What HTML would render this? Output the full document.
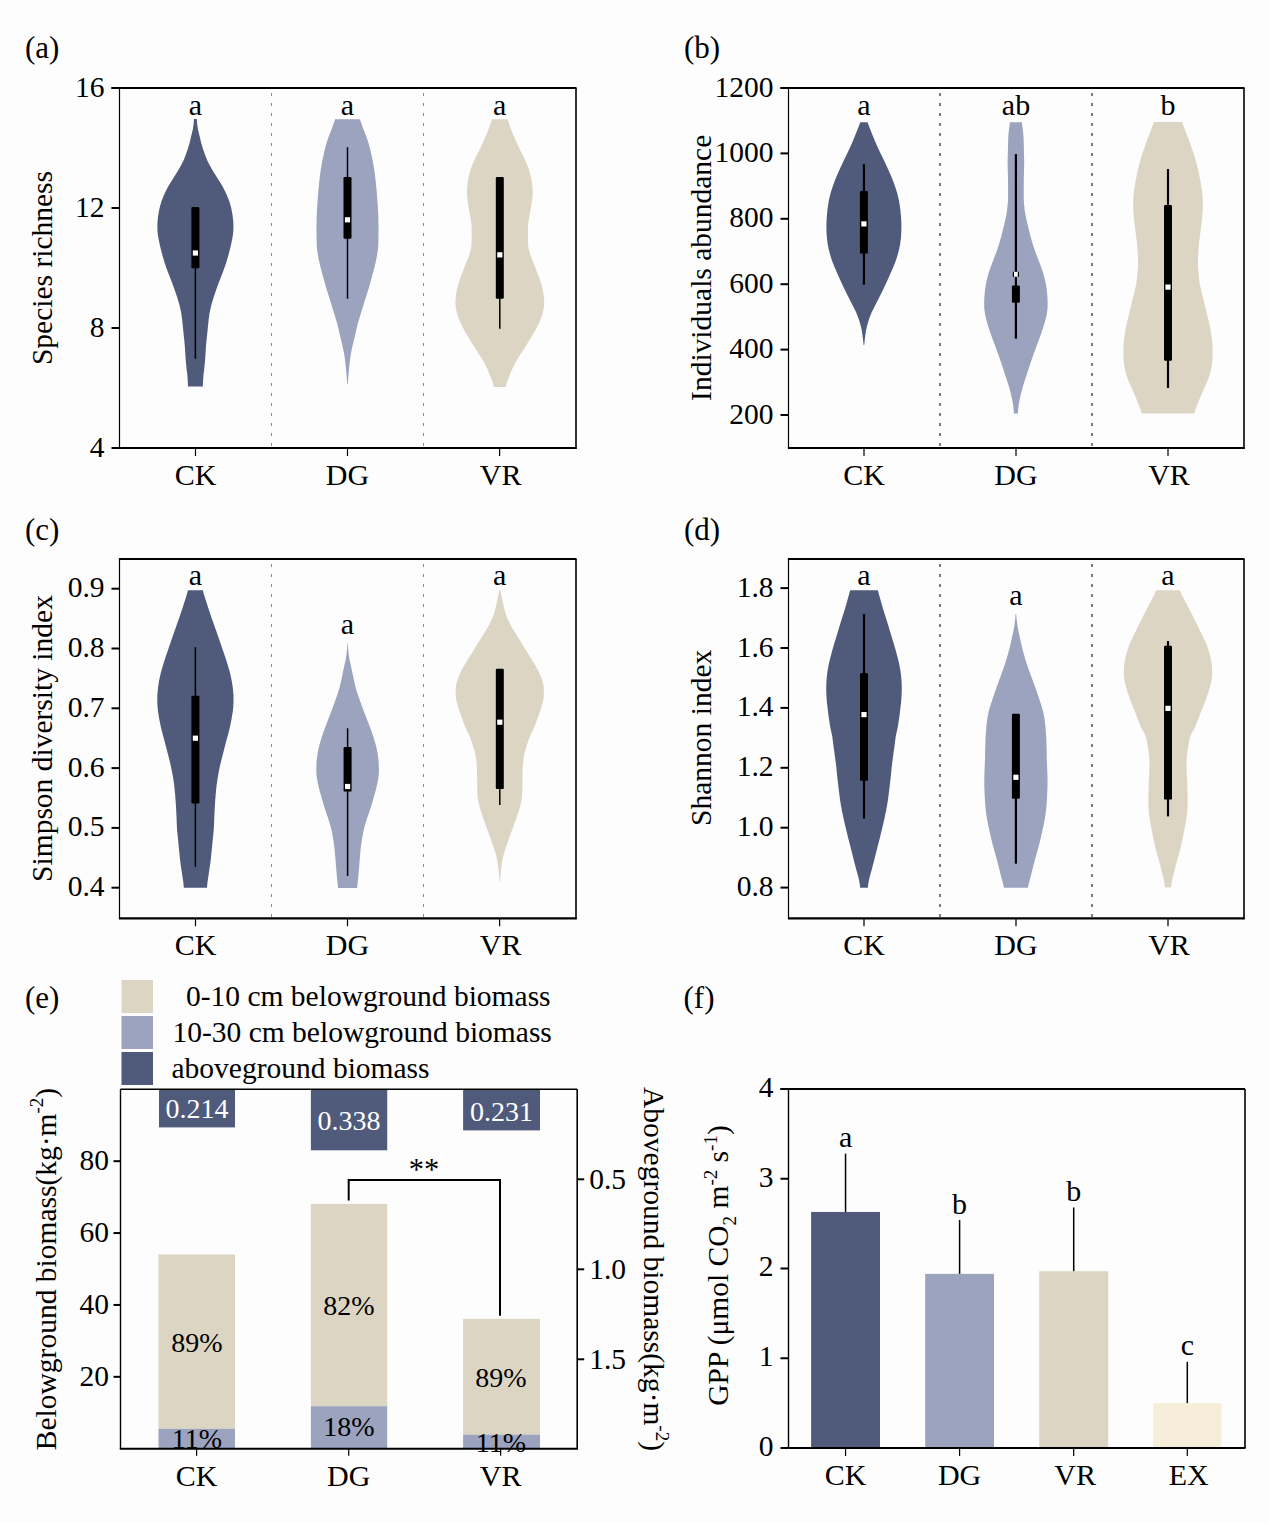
<!DOCTYPE html>
<html><head><meta charset="utf-8"><style>
html,body{margin:0;padding:0;background:#fdfdfd;}
svg{display:block;}
</style></head><body>
<svg width="1269" height="1523" viewBox="0 0 1269 1523" font-family="'Liberation Serif', serif">
<rect x="0" y="0" width="1269" height="1523" fill="#fdfdfd"/>
<path d="M196.9,119.0 L196.9,120.0 L197.0,121.0 L197.0,122.0 L197.1,123.0 L197.2,124.0 L197.3,125.0 L197.5,126.0 L197.6,127.0 L197.8,128.0 L197.9,129.0 L198.1,130.0 L198.4,131.0 L198.6,132.0 L198.8,133.0 L199.1,134.0 L199.3,135.0 L199.6,136.0 L199.8,137.0 L200.0,138.0 L200.3,139.0 L200.5,140.0 L200.7,141.0 L201.0,142.0 L201.2,143.0 L201.5,144.0 L201.8,145.0 L202.1,146.0 L202.4,147.0 L202.7,148.0 L203.0,149.0 L203.4,150.0 L203.7,151.0 L204.1,152.0 L204.4,153.0 L204.8,154.0 L205.1,155.0 L205.5,156.0 L205.9,157.0 L206.3,158.0 L206.7,159.0 L207.1,160.0 L207.5,161.0 L208.0,162.0 L208.5,163.0 L209.0,164.0 L209.6,165.0 L210.1,166.0 L210.7,167.0 L211.3,168.0 L211.8,169.0 L212.4,170.0 L213.0,171.0 L213.6,172.0 L214.2,173.0 L214.9,174.0 L215.5,175.0 L216.1,176.0 L216.7,177.0 L217.3,178.0 L218.0,179.0 L218.6,180.0 L219.2,181.0 L219.9,182.0 L220.5,183.0 L221.1,184.0 L221.7,185.0 L222.3,186.0 L222.9,187.0 L223.4,188.0 L223.9,189.0 L224.4,190.0 L224.9,191.0 L225.4,192.0 L225.9,193.0 L226.3,194.0 L226.8,195.0 L227.2,196.0 L227.6,197.0 L228.0,198.0 L228.4,199.0 L228.8,200.0 L229.2,201.0 L229.5,202.0 L229.8,203.0 L230.1,204.0 L230.4,205.0 L230.7,206.0 L230.9,207.0 L231.2,208.0 L231.4,209.0 L231.6,210.0 L231.8,211.0 L232.0,212.0 L232.2,213.0 L232.3,214.0 L232.5,215.0 L232.7,216.0 L232.8,217.0 L232.9,218.0 L233.0,219.0 L233.1,220.0 L233.2,221.0 L233.3,222.0 L233.3,223.0 L233.4,224.0 L233.4,225.0 L233.4,226.0 L233.4,227.0 L233.4,228.0 L233.4,229.0 L233.4,230.0 L233.3,231.0 L233.2,232.0 L233.1,233.0 L233.0,234.0 L232.9,235.0 L232.7,236.0 L232.5,237.0 L232.4,238.0 L232.2,239.0 L232.0,240.0 L231.8,241.0 L231.6,242.0 L231.4,243.0 L231.2,244.0 L230.9,245.0 L230.7,246.0 L230.5,247.0 L230.2,248.0 L230.0,249.0 L229.7,250.0 L229.5,251.0 L229.2,252.0 L229.0,253.0 L228.7,254.0 L228.4,255.0 L228.2,256.0 L227.9,257.0 L227.6,258.0 L227.3,259.0 L227.0,260.0 L226.7,261.0 L226.4,262.0 L226.1,263.0 L225.8,264.0 L225.4,265.0 L225.1,266.0 L224.7,267.0 L224.4,268.0 L224.0,269.0 L223.6,270.0 L223.3,271.0 L222.9,272.0 L222.5,273.0 L222.1,274.0 L221.7,275.0 L221.3,276.0 L220.9,277.0 L220.6,278.0 L220.2,279.0 L219.8,280.0 L219.4,281.0 L219.0,282.0 L218.6,283.0 L218.3,284.0 L217.9,285.0 L217.5,286.0 L217.2,287.0 L216.8,288.0 L216.5,289.0 L216.1,290.0 L215.8,291.0 L215.4,292.0 L215.1,293.0 L214.8,294.0 L214.4,295.0 L214.1,296.0 L213.7,297.0 L213.4,298.0 L213.1,299.0 L212.8,300.0 L212.5,301.0 L212.2,302.0 L211.9,303.0 L211.6,304.0 L211.4,305.0 L211.1,306.0 L210.9,307.0 L210.6,308.0 L210.4,309.0 L210.2,310.0 L210.0,311.0 L209.8,312.0 L209.6,313.0 L209.4,314.0 L209.3,315.0 L209.1,316.0 L209.0,317.0 L208.9,318.0 L208.7,319.0 L208.6,320.0 L208.5,321.0 L208.4,322.0 L208.3,323.0 L208.2,324.0 L208.1,325.0 L208.0,326.0 L207.9,327.0 L207.8,328.0 L207.7,329.0 L207.6,330.0 L207.5,331.0 L207.4,332.0 L207.3,333.0 L207.2,334.0 L207.1,335.0 L207.0,336.0 L206.9,337.0 L206.8,338.0 L206.7,339.0 L206.6,340.0 L206.4,341.0 L206.3,342.0 L206.3,343.0 L206.2,344.0 L206.1,345.0 L206.0,346.0 L205.9,347.0 L205.9,348.0 L205.8,349.0 L205.7,350.0 L205.7,351.0 L205.6,352.0 L205.6,353.0 L205.5,354.0 L205.4,355.0 L205.4,356.0 L205.3,357.0 L205.2,358.0 L205.2,359.0 L205.1,360.0 L205.0,361.0 L204.9,362.0 L204.8,363.0 L204.7,364.0 L204.6,365.0 L204.5,366.0 L204.4,367.0 L204.3,368.0 L204.2,369.0 L204.1,370.0 L204.0,371.0 L203.8,372.0 L203.7,373.0 L203.6,374.0 L203.5,375.0 L203.4,376.0 L203.3,377.0 L203.3,378.0 L203.2,379.0 L203.1,380.0 L203.1,381.0 L203.0,382.0 L202.9,383.0 L202.9,384.0 L202.9,385.0 L202.8,386.0 L202.8,386.5 L188.0,386.5 L188.0,386.0 L187.9,385.0 L187.9,384.0 L187.9,383.0 L187.8,382.0 L187.7,381.0 L187.7,380.0 L187.6,379.0 L187.5,378.0 L187.5,377.0 L187.4,376.0 L187.3,375.0 L187.2,374.0 L187.1,373.0 L187.0,372.0 L186.8,371.0 L186.7,370.0 L186.6,369.0 L186.5,368.0 L186.4,367.0 L186.3,366.0 L186.2,365.0 L186.1,364.0 L186.0,363.0 L185.9,362.0 L185.8,361.0 L185.7,360.0 L185.6,359.0 L185.6,358.0 L185.5,357.0 L185.4,356.0 L185.4,355.0 L185.3,354.0 L185.2,353.0 L185.2,352.0 L185.1,351.0 L185.1,350.0 L185.0,349.0 L184.9,348.0 L184.9,347.0 L184.8,346.0 L184.7,345.0 L184.6,344.0 L184.5,343.0 L184.5,342.0 L184.4,341.0 L184.2,340.0 L184.1,339.0 L184.0,338.0 L183.9,337.0 L183.8,336.0 L183.7,335.0 L183.6,334.0 L183.5,333.0 L183.4,332.0 L183.3,331.0 L183.2,330.0 L183.1,329.0 L183.0,328.0 L182.9,327.0 L182.8,326.0 L182.7,325.0 L182.6,324.0 L182.5,323.0 L182.4,322.0 L182.3,321.0 L182.2,320.0 L182.1,319.0 L181.9,318.0 L181.8,317.0 L181.7,316.0 L181.5,315.0 L181.4,314.0 L181.2,313.0 L181.0,312.0 L180.8,311.0 L180.6,310.0 L180.4,309.0 L180.2,308.0 L179.9,307.0 L179.7,306.0 L179.4,305.0 L179.2,304.0 L178.9,303.0 L178.6,302.0 L178.3,301.0 L178.0,300.0 L177.7,299.0 L177.4,298.0 L177.1,297.0 L176.7,296.0 L176.4,295.0 L176.0,294.0 L175.7,293.0 L175.4,292.0 L175.0,291.0 L174.7,290.0 L174.3,289.0 L174.0,288.0 L173.6,287.0 L173.3,286.0 L172.9,285.0 L172.5,284.0 L172.2,283.0 L171.8,282.0 L171.4,281.0 L171.0,280.0 L170.6,279.0 L170.2,278.0 L169.9,277.0 L169.5,276.0 L169.1,275.0 L168.7,274.0 L168.3,273.0 L167.9,272.0 L167.5,271.0 L167.2,270.0 L166.8,269.0 L166.4,268.0 L166.1,267.0 L165.7,266.0 L165.4,265.0 L165.0,264.0 L164.7,263.0 L164.4,262.0 L164.1,261.0 L163.8,260.0 L163.5,259.0 L163.2,258.0 L162.9,257.0 L162.6,256.0 L162.4,255.0 L162.1,254.0 L161.8,253.0 L161.6,252.0 L161.3,251.0 L161.1,250.0 L160.8,249.0 L160.6,248.0 L160.3,247.0 L160.1,246.0 L159.9,245.0 L159.6,244.0 L159.4,243.0 L159.2,242.0 L159.0,241.0 L158.8,240.0 L158.6,239.0 L158.4,238.0 L158.3,237.0 L158.1,236.0 L157.9,235.0 L157.8,234.0 L157.7,233.0 L157.6,232.0 L157.5,231.0 L157.4,230.0 L157.4,229.0 L157.4,228.0 L157.4,227.0 L157.4,226.0 L157.4,225.0 L157.4,224.0 L157.5,223.0 L157.5,222.0 L157.6,221.0 L157.7,220.0 L157.8,219.0 L157.9,218.0 L158.0,217.0 L158.1,216.0 L158.3,215.0 L158.5,214.0 L158.6,213.0 L158.8,212.0 L159.0,211.0 L159.2,210.0 L159.4,209.0 L159.6,208.0 L159.9,207.0 L160.1,206.0 L160.4,205.0 L160.7,204.0 L161.0,203.0 L161.3,202.0 L161.6,201.0 L162.0,200.0 L162.4,199.0 L162.8,198.0 L163.2,197.0 L163.6,196.0 L164.0,195.0 L164.5,194.0 L164.9,193.0 L165.4,192.0 L165.9,191.0 L166.4,190.0 L166.9,189.0 L167.4,188.0 L167.9,187.0 L168.5,186.0 L169.1,185.0 L169.7,184.0 L170.3,183.0 L170.9,182.0 L171.6,181.0 L172.2,180.0 L172.8,179.0 L173.5,178.0 L174.1,177.0 L174.7,176.0 L175.3,175.0 L175.9,174.0 L176.6,173.0 L177.2,172.0 L177.8,171.0 L178.4,170.0 L179.0,169.0 L179.5,168.0 L180.1,167.0 L180.7,166.0 L181.2,165.0 L181.8,164.0 L182.3,163.0 L182.8,162.0 L183.3,161.0 L183.7,160.0 L184.1,159.0 L184.5,158.0 L184.9,157.0 L185.3,156.0 L185.7,155.0 L186.0,154.0 L186.4,153.0 L186.7,152.0 L187.1,151.0 L187.4,150.0 L187.8,149.0 L188.1,148.0 L188.4,147.0 L188.7,146.0 L189.0,145.0 L189.3,144.0 L189.6,143.0 L189.8,142.0 L190.1,141.0 L190.3,140.0 L190.5,139.0 L190.8,138.0 L191.0,137.0 L191.2,136.0 L191.5,135.0 L191.7,134.0 L192.0,133.0 L192.2,132.0 L192.4,131.0 L192.7,130.0 L192.9,129.0 L193.0,128.0 L193.2,127.0 L193.3,126.0 L193.5,125.0 L193.6,124.0 L193.7,123.0 L193.8,122.0 L193.8,121.0 L193.9,120.0 L193.9,119.0Z" fill="#505a7b"/>
<line x1="195.40" y1="267.30" x2="195.40" y2="358.70" stroke="#000" stroke-width="1.5" />
<rect x="191.40" y="207.00" width="8" height="61.30" rx="1.2" fill="#000"/>
<rect x="192.80" y="250.40" width="5.20" height="5.20" fill="#fff" />
<path d="M359.9,119.2 L360.3,120.2 L360.6,121.2 L360.9,122.2 L361.3,123.2 L361.6,124.2 L362.0,125.2 L362.3,126.2 L362.7,127.2 L363.1,128.2 L363.4,129.2 L363.8,130.2 L364.2,131.2 L364.6,132.2 L365.0,133.2 L365.4,134.2 L365.8,135.2 L366.1,136.2 L366.5,137.2 L366.9,138.2 L367.2,139.2 L367.6,140.2 L367.9,141.2 L368.2,142.2 L368.5,143.2 L368.8,144.2 L369.1,145.2 L369.4,146.2 L369.7,147.2 L369.9,148.2 L370.2,149.2 L370.4,150.2 L370.6,151.2 L370.9,152.2 L371.1,153.2 L371.3,154.2 L371.5,155.2 L371.7,156.2 L371.9,157.2 L372.2,158.2 L372.4,159.2 L372.6,160.2 L372.8,161.2 L372.9,162.2 L373.1,163.2 L373.3,164.2 L373.5,165.2 L373.7,166.2 L373.8,167.2 L374.0,168.2 L374.2,169.2 L374.3,170.2 L374.5,171.2 L374.6,172.2 L374.7,173.2 L374.9,174.2 L375.0,175.2 L375.1,176.2 L375.2,177.2 L375.3,178.2 L375.4,179.2 L375.6,180.2 L375.7,181.2 L375.8,182.2 L375.9,183.2 L376.0,184.2 L376.1,185.2 L376.2,186.2 L376.3,187.2 L376.4,188.2 L376.5,189.2 L376.6,190.2 L376.7,191.2 L376.7,192.2 L376.8,193.2 L376.9,194.2 L377.0,195.2 L377.1,196.2 L377.2,197.2 L377.2,198.2 L377.3,199.2 L377.4,200.2 L377.4,201.2 L377.5,202.2 L377.6,203.2 L377.7,204.2 L377.7,205.2 L377.8,206.2 L377.9,207.2 L377.9,208.2 L378.0,209.2 L378.0,210.2 L378.1,211.2 L378.1,212.2 L378.2,213.2 L378.2,214.2 L378.3,215.2 L378.3,216.2 L378.3,217.2 L378.3,218.2 L378.4,219.2 L378.4,220.2 L378.4,221.2 L378.4,222.2 L378.4,223.2 L378.5,224.2 L378.5,225.2 L378.5,226.2 L378.5,227.2 L378.5,228.2 L378.5,229.2 L378.5,230.2 L378.5,231.2 L378.5,232.2 L378.5,233.2 L378.5,234.2 L378.4,235.2 L378.4,236.2 L378.4,237.2 L378.4,238.2 L378.4,239.2 L378.4,240.2 L378.4,241.2 L378.3,242.2 L378.3,243.2 L378.3,244.2 L378.2,245.2 L378.2,246.2 L378.1,247.2 L378.0,248.2 L377.9,249.2 L377.8,250.2 L377.6,251.2 L377.5,252.2 L377.3,253.2 L377.2,254.2 L377.0,255.2 L376.8,256.2 L376.7,257.2 L376.5,258.2 L376.3,259.2 L376.1,260.2 L375.9,261.2 L375.6,262.2 L375.4,263.2 L375.2,264.2 L375.0,265.2 L374.7,266.2 L374.5,267.2 L374.2,268.2 L373.9,269.2 L373.7,270.2 L373.4,271.2 L373.2,272.2 L372.9,273.2 L372.6,274.2 L372.3,275.2 L372.1,276.2 L371.8,277.2 L371.5,278.2 L371.2,279.2 L371.0,280.2 L370.7,281.2 L370.4,282.2 L370.1,283.2 L369.8,284.2 L369.6,285.2 L369.3,286.2 L369.0,287.2 L368.7,288.2 L368.4,289.2 L368.1,290.2 L367.8,291.2 L367.4,292.2 L367.1,293.2 L366.8,294.2 L366.5,295.2 L366.2,296.2 L365.9,297.2 L365.6,298.2 L365.3,299.2 L364.9,300.2 L364.6,301.2 L364.3,302.2 L364.0,303.2 L363.7,304.2 L363.4,305.2 L363.1,306.2 L362.8,307.2 L362.5,308.2 L362.2,309.2 L361.8,310.2 L361.5,311.2 L361.2,312.2 L360.9,313.2 L360.6,314.2 L360.3,315.2 L360.0,316.2 L359.7,317.2 L359.4,318.2 L359.1,319.2 L358.8,320.2 L358.5,321.2 L358.2,322.2 L357.9,323.2 L357.6,324.2 L357.4,325.2 L357.1,326.2 L356.9,327.2 L356.7,328.2 L356.4,329.2 L356.2,330.2 L356.0,331.2 L355.7,332.2 L355.5,333.2 L355.3,334.2 L355.0,335.2 L354.8,336.2 L354.6,337.2 L354.3,338.2 L354.1,339.2 L353.9,340.2 L353.6,341.2 L353.4,342.2 L353.2,343.2 L352.9,344.2 L352.7,345.2 L352.5,346.2 L352.2,347.2 L352.0,348.2 L351.8,349.2 L351.6,350.2 L351.4,351.2 L351.2,352.2 L351.0,353.2 L350.8,354.2 L350.7,355.2 L350.5,356.2 L350.4,357.2 L350.2,358.2 L350.1,359.2 L350.0,360.2 L349.8,361.2 L349.7,362.2 L349.6,363.2 L349.5,364.2 L349.4,365.2 L349.3,366.2 L349.2,367.2 L349.1,368.2 L349.0,369.2 L348.9,370.2 L348.8,371.2 L348.7,372.2 L348.6,373.2 L348.5,374.2 L348.4,375.2 L348.4,376.2 L348.3,377.2 L348.2,378.2 L348.1,379.2 L348.1,380.2 L348.0,381.2 L347.9,382.2 L347.9,383.2 L347.8,383.9 L347.2,383.9 L347.1,383.2 L347.1,382.2 L347.0,381.2 L346.9,380.2 L346.9,379.2 L346.8,378.2 L346.7,377.2 L346.6,376.2 L346.6,375.2 L346.5,374.2 L346.4,373.2 L346.3,372.2 L346.2,371.2 L346.1,370.2 L346.0,369.2 L345.9,368.2 L345.8,367.2 L345.7,366.2 L345.6,365.2 L345.5,364.2 L345.4,363.2 L345.3,362.2 L345.2,361.2 L345.0,360.2 L344.9,359.2 L344.8,358.2 L344.6,357.2 L344.5,356.2 L344.3,355.2 L344.2,354.2 L344.0,353.2 L343.8,352.2 L343.6,351.2 L343.4,350.2 L343.2,349.2 L343.0,348.2 L342.8,347.2 L342.5,346.2 L342.3,345.2 L342.1,344.2 L341.8,343.2 L341.6,342.2 L341.4,341.2 L341.1,340.2 L340.9,339.2 L340.7,338.2 L340.4,337.2 L340.2,336.2 L340.0,335.2 L339.7,334.2 L339.5,333.2 L339.3,332.2 L339.0,331.2 L338.8,330.2 L338.6,329.2 L338.3,328.2 L338.1,327.2 L337.9,326.2 L337.6,325.2 L337.4,324.2 L337.1,323.2 L336.8,322.2 L336.5,321.2 L336.2,320.2 L335.9,319.2 L335.6,318.2 L335.3,317.2 L335.0,316.2 L334.7,315.2 L334.4,314.2 L334.1,313.2 L333.8,312.2 L333.5,311.2 L333.2,310.2 L332.8,309.2 L332.5,308.2 L332.2,307.2 L331.9,306.2 L331.6,305.2 L331.3,304.2 L331.0,303.2 L330.7,302.2 L330.4,301.2 L330.1,300.2 L329.7,299.2 L329.4,298.2 L329.1,297.2 L328.8,296.2 L328.5,295.2 L328.2,294.2 L327.9,293.2 L327.6,292.2 L327.2,291.2 L326.9,290.2 L326.6,289.2 L326.3,288.2 L326.0,287.2 L325.7,286.2 L325.4,285.2 L325.2,284.2 L324.9,283.2 L324.6,282.2 L324.3,281.2 L324.0,280.2 L323.8,279.2 L323.5,278.2 L323.2,277.2 L322.9,276.2 L322.7,275.2 L322.4,274.2 L322.1,273.2 L321.8,272.2 L321.6,271.2 L321.3,270.2 L321.1,269.2 L320.8,268.2 L320.5,267.2 L320.3,266.2 L320.0,265.2 L319.8,264.2 L319.6,263.2 L319.4,262.2 L319.1,261.2 L318.9,260.2 L318.7,259.2 L318.5,258.2 L318.3,257.2 L318.2,256.2 L318.0,255.2 L317.8,254.2 L317.7,253.2 L317.5,252.2 L317.4,251.2 L317.2,250.2 L317.1,249.2 L317.0,248.2 L316.9,247.2 L316.8,246.2 L316.8,245.2 L316.7,244.2 L316.7,243.2 L316.7,242.2 L316.6,241.2 L316.6,240.2 L316.6,239.2 L316.6,238.2 L316.6,237.2 L316.6,236.2 L316.6,235.2 L316.5,234.2 L316.5,233.2 L316.5,232.2 L316.5,231.2 L316.5,230.2 L316.5,229.2 L316.5,228.2 L316.5,227.2 L316.5,226.2 L316.5,225.2 L316.5,224.2 L316.6,223.2 L316.6,222.2 L316.6,221.2 L316.6,220.2 L316.6,219.2 L316.7,218.2 L316.7,217.2 L316.7,216.2 L316.7,215.2 L316.8,214.2 L316.8,213.2 L316.9,212.2 L316.9,211.2 L317.0,210.2 L317.0,209.2 L317.1,208.2 L317.1,207.2 L317.2,206.2 L317.3,205.2 L317.3,204.2 L317.4,203.2 L317.5,202.2 L317.6,201.2 L317.6,200.2 L317.7,199.2 L317.8,198.2 L317.8,197.2 L317.9,196.2 L318.0,195.2 L318.1,194.2 L318.2,193.2 L318.3,192.2 L318.3,191.2 L318.4,190.2 L318.5,189.2 L318.6,188.2 L318.7,187.2 L318.8,186.2 L318.9,185.2 L319.0,184.2 L319.1,183.2 L319.2,182.2 L319.3,181.2 L319.4,180.2 L319.6,179.2 L319.7,178.2 L319.8,177.2 L319.9,176.2 L320.0,175.2 L320.1,174.2 L320.3,173.2 L320.4,172.2 L320.5,171.2 L320.7,170.2 L320.8,169.2 L321.0,168.2 L321.2,167.2 L321.3,166.2 L321.5,165.2 L321.7,164.2 L321.9,163.2 L322.1,162.2 L322.2,161.2 L322.4,160.2 L322.6,159.2 L322.8,158.2 L323.1,157.2 L323.3,156.2 L323.5,155.2 L323.7,154.2 L323.9,153.2 L324.1,152.2 L324.4,151.2 L324.6,150.2 L324.8,149.2 L325.1,148.2 L325.3,147.2 L325.6,146.2 L325.9,145.2 L326.2,144.2 L326.5,143.2 L326.8,142.2 L327.1,141.2 L327.4,140.2 L327.8,139.2 L328.1,138.2 L328.5,137.2 L328.9,136.2 L329.2,135.2 L329.6,134.2 L330.0,133.2 L330.4,132.2 L330.8,131.2 L331.2,130.2 L331.6,129.2 L331.9,128.2 L332.3,127.2 L332.7,126.2 L333.0,125.2 L333.4,124.2 L333.7,123.2 L334.1,122.2 L334.4,121.2 L334.7,120.2 L335.1,119.2Z" fill="#9ba3be"/>
<line x1="347.50" y1="147.20" x2="347.50" y2="178.10" stroke="#000" stroke-width="1.5" />
<line x1="347.50" y1="237.70" x2="347.50" y2="298.70" stroke="#000" stroke-width="1.5" />
<rect x="343.50" y="177.10" width="8" height="61.60" rx="1.2" fill="#000"/>
<rect x="344.90" y="217.20" width="5.20" height="5.20" fill="#fff" />
<path d="M507.6,119.2 L507.9,120.2 L508.3,121.2 L508.6,122.2 L508.9,123.2 L509.2,124.2 L509.6,125.2 L509.9,126.2 L510.3,127.2 L510.7,128.2 L511.0,129.2 L511.4,130.2 L511.8,131.2 L512.2,132.2 L512.6,133.2 L513.1,134.2 L513.5,135.2 L513.9,136.2 L514.3,137.2 L514.8,138.2 L515.2,139.2 L515.6,140.2 L516.1,141.2 L516.5,142.2 L517.0,143.2 L517.4,144.2 L517.9,145.2 L518.4,146.2 L518.8,147.2 L519.3,148.2 L519.8,149.2 L520.3,150.2 L520.8,151.2 L521.3,152.2 L521.8,153.2 L522.3,154.2 L522.8,155.2 L523.3,156.2 L523.8,157.2 L524.3,158.2 L524.7,159.2 L525.2,160.2 L525.7,161.2 L526.1,162.2 L526.5,163.2 L527.0,164.2 L527.4,165.2 L527.8,166.2 L528.1,167.2 L528.5,168.2 L528.8,169.2 L529.2,170.2 L529.5,171.2 L529.8,172.2 L530.0,173.2 L530.3,174.2 L530.5,175.2 L530.8,176.2 L531.0,177.2 L531.2,178.2 L531.4,179.2 L531.6,180.2 L531.7,181.2 L531.9,182.2 L532.0,183.2 L532.1,184.2 L532.3,185.2 L532.4,186.2 L532.4,187.2 L532.5,188.2 L532.6,189.2 L532.6,190.2 L532.7,191.2 L532.7,192.2 L532.7,193.2 L532.6,194.2 L532.6,195.2 L532.5,196.2 L532.4,197.2 L532.3,198.2 L532.2,199.2 L532.0,200.2 L531.9,201.2 L531.8,202.2 L531.6,203.2 L531.5,204.2 L531.3,205.2 L531.2,206.2 L531.0,207.2 L530.9,208.2 L530.7,209.2 L530.5,210.2 L530.3,211.2 L530.2,212.2 L530.0,213.2 L529.8,214.2 L529.6,215.2 L529.4,216.2 L529.2,217.2 L529.0,218.2 L528.8,219.2 L528.7,220.2 L528.5,221.2 L528.4,222.2 L528.3,223.2 L528.2,224.2 L528.1,225.2 L528.0,226.2 L528.0,227.2 L527.9,228.2 L527.9,229.2 L527.9,230.2 L527.9,231.2 L527.9,232.2 L527.9,233.2 L527.9,234.2 L527.9,235.2 L527.9,236.2 L528.0,237.2 L528.0,238.2 L528.0,239.2 L528.0,240.2 L528.0,241.2 L528.0,242.2 L528.1,243.2 L528.1,244.2 L528.2,245.2 L528.3,246.2 L528.4,247.2 L528.5,248.2 L528.7,249.2 L529.0,250.2 L529.2,251.2 L529.5,252.2 L529.8,253.2 L530.1,254.2 L530.5,255.2 L530.8,256.2 L531.2,257.2 L531.6,258.2 L532.0,259.2 L532.4,260.2 L532.8,261.2 L533.2,262.2 L533.6,263.2 L534.1,264.2 L534.5,265.2 L534.9,266.2 L535.2,267.2 L535.6,268.2 L536.0,269.2 L536.4,270.2 L536.8,271.2 L537.1,272.2 L537.5,273.2 L537.9,274.2 L538.2,275.2 L538.6,276.2 L539.0,277.2 L539.3,278.2 L539.7,279.2 L540.0,280.2 L540.3,281.2 L540.7,282.2 L541.0,283.2 L541.3,284.2 L541.6,285.2 L541.8,286.2 L542.1,287.2 L542.4,288.2 L542.6,289.2 L542.8,290.2 L543.0,291.2 L543.2,292.2 L543.4,293.2 L543.5,294.2 L543.6,295.2 L543.8,296.2 L543.9,297.2 L544.0,298.2 L544.0,299.2 L544.1,300.2 L544.1,301.2 L544.2,302.2 L544.2,303.2 L544.1,304.2 L544.1,305.2 L544.0,306.2 L543.9,307.2 L543.7,308.2 L543.5,309.2 L543.3,310.2 L543.1,311.2 L542.8,312.2 L542.6,313.2 L542.3,314.2 L542.0,315.2 L541.7,316.2 L541.3,317.2 L541.0,318.2 L540.6,319.2 L540.2,320.2 L539.8,321.2 L539.3,322.2 L538.9,323.2 L538.4,324.2 L537.9,325.2 L537.4,326.2 L536.9,327.2 L536.4,328.2 L535.9,329.2 L535.3,330.2 L534.7,331.2 L534.2,332.2 L533.6,333.2 L533.0,334.2 L532.4,335.2 L531.8,336.2 L531.2,337.2 L530.6,338.2 L530.0,339.2 L529.4,340.2 L528.8,341.2 L528.2,342.2 L527.6,343.2 L526.9,344.2 L526.3,345.2 L525.7,346.2 L525.0,347.2 L524.4,348.2 L523.7,349.2 L523.1,350.2 L522.4,351.2 L521.8,352.2 L521.1,353.2 L520.5,354.2 L519.9,355.2 L519.3,356.2 L518.6,357.2 L518.0,358.2 L517.4,359.2 L516.9,360.2 L516.3,361.2 L515.7,362.2 L515.2,363.2 L514.6,364.2 L514.1,365.2 L513.6,366.2 L513.1,367.2 L512.6,368.2 L512.2,369.2 L511.7,370.2 L511.3,371.2 L510.8,372.2 L510.4,373.2 L510.0,374.2 L509.6,375.2 L509.2,376.2 L508.8,377.2 L508.4,378.2 L508.0,379.2 L507.7,380.2 L507.3,381.2 L507.0,382.2 L506.7,383.2 L506.4,384.2 L506.1,385.2 L505.9,386.2 L505.7,386.9 L493.9,386.9 L493.7,386.2 L493.5,385.2 L493.2,384.2 L492.9,383.2 L492.6,382.2 L492.3,381.2 L491.9,380.2 L491.6,379.2 L491.2,378.2 L490.8,377.2 L490.4,376.2 L490.0,375.2 L489.6,374.2 L489.2,373.2 L488.8,372.2 L488.3,371.2 L487.9,370.2 L487.4,369.2 L487.0,368.2 L486.5,367.2 L486.0,366.2 L485.5,365.2 L485.0,364.2 L484.4,363.2 L483.9,362.2 L483.3,361.2 L482.7,360.2 L482.2,359.2 L481.6,358.2 L481.0,357.2 L480.3,356.2 L479.7,355.2 L479.1,354.2 L478.5,353.2 L477.8,352.2 L477.2,351.2 L476.5,350.2 L475.9,349.2 L475.2,348.2 L474.6,347.2 L473.9,346.2 L473.3,345.2 L472.7,344.2 L472.0,343.2 L471.4,342.2 L470.8,341.2 L470.2,340.2 L469.6,339.2 L469.0,338.2 L468.4,337.2 L467.8,336.2 L467.2,335.2 L466.6,334.2 L466.0,333.2 L465.4,332.2 L464.9,331.2 L464.3,330.2 L463.7,329.2 L463.2,328.2 L462.7,327.2 L462.2,326.2 L461.7,325.2 L461.2,324.2 L460.7,323.2 L460.3,322.2 L459.8,321.2 L459.4,320.2 L459.0,319.2 L458.6,318.2 L458.3,317.2 L457.9,316.2 L457.6,315.2 L457.3,314.2 L457.0,313.2 L456.8,312.2 L456.5,311.2 L456.3,310.2 L456.1,309.2 L455.9,308.2 L455.7,307.2 L455.6,306.2 L455.5,305.2 L455.5,304.2 L455.4,303.2 L455.4,302.2 L455.5,301.2 L455.5,300.2 L455.6,299.2 L455.6,298.2 L455.7,297.2 L455.8,296.2 L456.0,295.2 L456.1,294.2 L456.2,293.2 L456.4,292.2 L456.6,291.2 L456.8,290.2 L457.0,289.2 L457.2,288.2 L457.5,287.2 L457.8,286.2 L458.0,285.2 L458.3,284.2 L458.6,283.2 L458.9,282.2 L459.3,281.2 L459.6,280.2 L459.9,279.2 L460.3,278.2 L460.6,277.2 L461.0,276.2 L461.4,275.2 L461.7,274.2 L462.1,273.2 L462.5,272.2 L462.8,271.2 L463.2,270.2 L463.6,269.2 L464.0,268.2 L464.4,267.2 L464.7,266.2 L465.1,265.2 L465.5,264.2 L466.0,263.2 L466.4,262.2 L466.8,261.2 L467.2,260.2 L467.6,259.2 L468.0,258.2 L468.4,257.2 L468.8,256.2 L469.1,255.2 L469.5,254.2 L469.8,253.2 L470.1,252.2 L470.4,251.2 L470.6,250.2 L470.9,249.2 L471.1,248.2 L471.2,247.2 L471.3,246.2 L471.4,245.2 L471.5,244.2 L471.5,243.2 L471.6,242.2 L471.6,241.2 L471.6,240.2 L471.6,239.2 L471.6,238.2 L471.6,237.2 L471.7,236.2 L471.7,235.2 L471.7,234.2 L471.7,233.2 L471.7,232.2 L471.7,231.2 L471.7,230.2 L471.7,229.2 L471.7,228.2 L471.6,227.2 L471.6,226.2 L471.5,225.2 L471.4,224.2 L471.3,223.2 L471.2,222.2 L471.1,221.2 L470.9,220.2 L470.8,219.2 L470.6,218.2 L470.4,217.2 L470.2,216.2 L470.0,215.2 L469.8,214.2 L469.6,213.2 L469.4,212.2 L469.3,211.2 L469.1,210.2 L468.9,209.2 L468.7,208.2 L468.6,207.2 L468.4,206.2 L468.3,205.2 L468.1,204.2 L468.0,203.2 L467.8,202.2 L467.7,201.2 L467.6,200.2 L467.4,199.2 L467.3,198.2 L467.2,197.2 L467.1,196.2 L467.0,195.2 L467.0,194.2 L466.9,193.2 L466.9,192.2 L466.9,191.2 L467.0,190.2 L467.0,189.2 L467.1,188.2 L467.2,187.2 L467.2,186.2 L467.3,185.2 L467.5,184.2 L467.6,183.2 L467.7,182.2 L467.9,181.2 L468.0,180.2 L468.2,179.2 L468.4,178.2 L468.6,177.2 L468.8,176.2 L469.1,175.2 L469.3,174.2 L469.6,173.2 L469.8,172.2 L470.1,171.2 L470.4,170.2 L470.8,169.2 L471.1,168.2 L471.5,167.2 L471.8,166.2 L472.2,165.2 L472.6,164.2 L473.1,163.2 L473.5,162.2 L473.9,161.2 L474.4,160.2 L474.9,159.2 L475.3,158.2 L475.8,157.2 L476.3,156.2 L476.8,155.2 L477.3,154.2 L477.8,153.2 L478.3,152.2 L478.8,151.2 L479.3,150.2 L479.8,149.2 L480.3,148.2 L480.8,147.2 L481.2,146.2 L481.7,145.2 L482.2,144.2 L482.6,143.2 L483.1,142.2 L483.5,141.2 L484.0,140.2 L484.4,139.2 L484.8,138.2 L485.3,137.2 L485.7,136.2 L486.1,135.2 L486.5,134.2 L487.0,133.2 L487.4,132.2 L487.8,131.2 L488.2,130.2 L488.6,129.2 L488.9,128.2 L489.3,127.2 L489.7,126.2 L490.0,125.2 L490.4,124.2 L490.7,123.2 L491.0,122.2 L491.3,121.2 L491.7,120.2 L492.0,119.2Z" fill="#ddd5c4"/>
<line x1="499.80" y1="297.70" x2="499.80" y2="328.70" stroke="#000" stroke-width="1.5" />
<rect x="495.80" y="176.90" width="8" height="121.80" rx="1.2" fill="#000"/>
<rect x="497.20" y="252.25" width="5.20" height="5.20" fill="#fff" />
<line x1="271.5" y1="90" x2="271.5" y2="447" stroke="#8a8a8a" stroke-width="1" stroke-dasharray="3 7" stroke-dashoffset="-3"/>
<line x1="423.5" y1="90" x2="423.5" y2="447" stroke="#8a8a8a" stroke-width="1" stroke-dasharray="3 7" stroke-dashoffset="-3"/>
<line x1="111.50" y1="88.00" x2="576.50" y2="88.00" stroke="#000" stroke-width="2.2" />
<line x1="118.90" y1="448.00" x2="576.50" y2="448.00" stroke="#000" stroke-width="2.2" />
<line x1="119.50" y1="88.00" x2="119.50" y2="448.00" stroke="#000" stroke-width="1.2" />
<line x1="576.00" y1="88.00" x2="576.00" y2="449.00" stroke="#000" stroke-width="1.6" />
<line x1="111.50" y1="88.00" x2="119.50" y2="88.00" stroke="#000" stroke-width="2" />
<text x="104.50" y="96.50" font-size="29.5" text-anchor="end" fill="#000" >16</text>
<line x1="111.50" y1="208.00" x2="119.50" y2="208.00" stroke="#000" stroke-width="2" />
<text x="104.50" y="216.50" font-size="29.5" text-anchor="end" fill="#000" >12</text>
<line x1="111.50" y1="328.00" x2="119.50" y2="328.00" stroke="#000" stroke-width="2" />
<text x="104.50" y="336.50" font-size="29.5" text-anchor="end" fill="#000" >8</text>
<line x1="111.50" y1="448.00" x2="119.50" y2="448.00" stroke="#000" stroke-width="2" />
<text x="104.50" y="456.50" font-size="29.5" text-anchor="end" fill="#000" >4</text>
<line x1="195.50" y1="448.00" x2="195.50" y2="456.00" stroke="#000" stroke-width="1.2" />
<line x1="347.50" y1="448.00" x2="347.50" y2="456.00" stroke="#000" stroke-width="1.2" />
<line x1="499.60" y1="448.00" x2="499.60" y2="456.00" stroke="#000" stroke-width="1.2" />
<text x="195.50" y="485.00" font-size="30" text-anchor="middle" fill="#000" >CK</text>
<text x="347.50" y="485.00" font-size="30" text-anchor="middle" fill="#000" >DG</text>
<text x="500.60" y="485.00" font-size="30" text-anchor="middle" fill="#000" >VR</text>
<text x="195.50" y="114.50" font-size="30" text-anchor="middle" fill="#000" >a</text>
<text x="347.50" y="114.50" font-size="30" text-anchor="middle" fill="#000" >a</text>
<text x="499.60" y="114.50" font-size="30" text-anchor="middle" fill="#000" >a</text>
<text x="25.00" y="57.70" font-size="31" text-anchor="start" fill="#000" >(a)</text>
<text transform="translate(51.50,268.00) rotate(-90)" font-size="29.5" text-anchor="middle">Species richness</text>
<path d="M867.6,122.2 L867.9,123.2 L868.3,124.2 L868.6,125.2 L869.0,126.2 L869.4,127.2 L869.8,128.2 L870.2,129.2 L870.6,130.2 L871.0,131.2 L871.4,132.2 L871.8,133.2 L872.2,134.2 L872.6,135.2 L873.0,136.2 L873.4,137.2 L873.8,138.2 L874.2,139.2 L874.6,140.2 L875.0,141.2 L875.5,142.2 L875.9,143.2 L876.3,144.2 L876.8,145.2 L877.2,146.2 L877.7,147.2 L878.1,148.2 L878.6,149.2 L879.1,150.2 L879.5,151.2 L880.0,152.2 L880.5,153.2 L881.0,154.2 L881.5,155.2 L882.0,156.2 L882.4,157.2 L882.9,158.2 L883.4,159.2 L883.9,160.2 L884.4,161.2 L884.9,162.2 L885.3,163.2 L885.8,164.2 L886.3,165.2 L886.7,166.2 L887.2,167.2 L887.6,168.2 L888.1,169.2 L888.5,170.2 L889.0,171.2 L889.4,172.2 L889.9,173.2 L890.3,174.2 L890.8,175.2 L891.2,176.2 L891.6,177.2 L892.0,178.2 L892.4,179.2 L892.8,180.2 L893.2,181.2 L893.6,182.2 L893.9,183.2 L894.3,184.2 L894.7,185.2 L895.0,186.2 L895.3,187.2 L895.7,188.2 L896.0,189.2 L896.3,190.2 L896.6,191.2 L896.9,192.2 L897.2,193.2 L897.5,194.2 L897.7,195.2 L898.0,196.2 L898.2,197.2 L898.4,198.2 L898.7,199.2 L898.9,200.2 L899.1,201.2 L899.2,202.2 L899.4,203.2 L899.6,204.2 L899.7,205.2 L899.9,206.2 L900.0,207.2 L900.1,208.2 L900.3,209.2 L900.4,210.2 L900.5,211.2 L900.6,212.2 L900.7,213.2 L900.8,214.2 L900.9,215.2 L901.0,216.2 L901.0,217.2 L901.1,218.2 L901.2,219.2 L901.2,220.2 L901.3,221.2 L901.3,222.2 L901.3,223.2 L901.3,224.2 L901.4,225.2 L901.4,226.2 L901.4,227.2 L901.4,228.2 L901.3,229.2 L901.3,230.2 L901.3,231.2 L901.3,232.2 L901.2,233.2 L901.2,234.2 L901.1,235.2 L901.0,236.2 L901.0,237.2 L900.9,238.2 L900.8,239.2 L900.6,240.2 L900.5,241.2 L900.4,242.2 L900.2,243.2 L900.1,244.2 L899.9,245.2 L899.7,246.2 L899.5,247.2 L899.3,248.2 L899.1,249.2 L898.8,250.2 L898.6,251.2 L898.3,252.2 L898.1,253.2 L897.8,254.2 L897.5,255.2 L897.2,256.2 L896.9,257.2 L896.6,258.2 L896.3,259.2 L895.9,260.2 L895.6,261.2 L895.2,262.2 L894.8,263.2 L894.4,264.2 L894.0,265.2 L893.6,266.2 L893.2,267.2 L892.8,268.2 L892.3,269.2 L891.9,270.2 L891.5,271.2 L891.0,272.2 L890.6,273.2 L890.1,274.2 L889.7,275.2 L889.3,276.2 L888.8,277.2 L888.4,278.2 L887.9,279.2 L887.5,280.2 L887.0,281.2 L886.6,282.2 L886.1,283.2 L885.6,284.2 L885.2,285.2 L884.7,286.2 L884.2,287.2 L883.8,288.2 L883.3,289.2 L882.8,290.2 L882.3,291.2 L881.8,292.2 L881.3,293.2 L880.8,294.2 L880.3,295.2 L879.8,296.2 L879.3,297.2 L878.8,298.2 L878.3,299.2 L877.8,300.2 L877.3,301.2 L876.8,302.2 L876.2,303.2 L875.7,304.2 L875.2,305.2 L874.7,306.2 L874.2,307.2 L873.7,308.2 L873.2,309.2 L872.7,310.2 L872.2,311.2 L871.7,312.2 L871.3,313.2 L870.9,314.2 L870.5,315.2 L870.1,316.2 L869.7,317.2 L869.4,318.2 L869.0,319.2 L868.7,320.2 L868.4,321.2 L868.1,322.2 L867.8,323.2 L867.5,324.2 L867.2,325.2 L867.0,326.2 L866.7,327.2 L866.5,328.2 L866.3,329.2 L866.1,330.2 L865.9,331.2 L865.8,332.2 L865.6,333.2 L865.5,334.2 L865.3,335.2 L865.2,336.2 L865.1,337.2 L864.9,338.2 L864.8,339.2 L864.7,340.2 L864.6,341.2 L864.5,342.2 L864.4,343.2 L864.3,344.2 L864.2,345.0 L863.6,345.0 L863.5,344.2 L863.4,343.2 L863.3,342.2 L863.2,341.2 L863.1,340.2 L863.0,339.2 L862.9,338.2 L862.7,337.2 L862.6,336.2 L862.5,335.2 L862.3,334.2 L862.2,333.2 L862.0,332.2 L861.9,331.2 L861.7,330.2 L861.5,329.2 L861.3,328.2 L861.1,327.2 L860.8,326.2 L860.6,325.2 L860.3,324.2 L860.0,323.2 L859.7,322.2 L859.4,321.2 L859.1,320.2 L858.8,319.2 L858.4,318.2 L858.1,317.2 L857.7,316.2 L857.3,315.2 L856.9,314.2 L856.5,313.2 L856.1,312.2 L855.6,311.2 L855.1,310.2 L854.6,309.2 L854.1,308.2 L853.6,307.2 L853.1,306.2 L852.6,305.2 L852.1,304.2 L851.6,303.2 L851.0,302.2 L850.5,301.2 L850.0,300.2 L849.5,299.2 L849.0,298.2 L848.5,297.2 L848.0,296.2 L847.5,295.2 L847.0,294.2 L846.5,293.2 L846.0,292.2 L845.5,291.2 L845.0,290.2 L844.5,289.2 L844.0,288.2 L843.6,287.2 L843.1,286.2 L842.6,285.2 L842.2,284.2 L841.7,283.2 L841.2,282.2 L840.8,281.2 L840.3,280.2 L839.9,279.2 L839.4,278.2 L839.0,277.2 L838.5,276.2 L838.1,275.2 L837.7,274.2 L837.2,273.2 L836.8,272.2 L836.3,271.2 L835.9,270.2 L835.5,269.2 L835.0,268.2 L834.6,267.2 L834.2,266.2 L833.8,265.2 L833.4,264.2 L833.0,263.2 L832.6,262.2 L832.2,261.2 L831.9,260.2 L831.5,259.2 L831.2,258.2 L830.9,257.2 L830.6,256.2 L830.3,255.2 L830.0,254.2 L829.7,253.2 L829.5,252.2 L829.2,251.2 L829.0,250.2 L828.7,249.2 L828.5,248.2 L828.3,247.2 L828.1,246.2 L827.9,245.2 L827.7,244.2 L827.6,243.2 L827.4,242.2 L827.3,241.2 L827.2,240.2 L827.0,239.2 L826.9,238.2 L826.8,237.2 L826.8,236.2 L826.7,235.2 L826.6,234.2 L826.6,233.2 L826.5,232.2 L826.5,231.2 L826.5,230.2 L826.5,229.2 L826.4,228.2 L826.4,227.2 L826.4,226.2 L826.4,225.2 L826.5,224.2 L826.5,223.2 L826.5,222.2 L826.5,221.2 L826.6,220.2 L826.6,219.2 L826.7,218.2 L826.8,217.2 L826.8,216.2 L826.9,215.2 L827.0,214.2 L827.1,213.2 L827.2,212.2 L827.3,211.2 L827.4,210.2 L827.5,209.2 L827.7,208.2 L827.8,207.2 L827.9,206.2 L828.1,205.2 L828.2,204.2 L828.4,203.2 L828.6,202.2 L828.7,201.2 L828.9,200.2 L829.1,199.2 L829.4,198.2 L829.6,197.2 L829.8,196.2 L830.1,195.2 L830.3,194.2 L830.6,193.2 L830.9,192.2 L831.2,191.2 L831.5,190.2 L831.8,189.2 L832.1,188.2 L832.5,187.2 L832.8,186.2 L833.1,185.2 L833.5,184.2 L833.9,183.2 L834.2,182.2 L834.6,181.2 L835.0,180.2 L835.4,179.2 L835.8,178.2 L836.2,177.2 L836.6,176.2 L837.0,175.2 L837.5,174.2 L837.9,173.2 L838.4,172.2 L838.8,171.2 L839.3,170.2 L839.7,169.2 L840.2,168.2 L840.6,167.2 L841.1,166.2 L841.5,165.2 L842.0,164.2 L842.5,163.2 L842.9,162.2 L843.4,161.2 L843.9,160.2 L844.4,159.2 L844.9,158.2 L845.4,157.2 L845.8,156.2 L846.3,155.2 L846.8,154.2 L847.3,153.2 L847.8,152.2 L848.3,151.2 L848.7,150.2 L849.2,149.2 L849.7,148.2 L850.1,147.2 L850.6,146.2 L851.0,145.2 L851.5,144.2 L851.9,143.2 L852.3,142.2 L852.8,141.2 L853.2,140.2 L853.6,139.2 L854.0,138.2 L854.4,137.2 L854.8,136.2 L855.2,135.2 L855.6,134.2 L856.0,133.2 L856.4,132.2 L856.8,131.2 L857.2,130.2 L857.6,129.2 L858.0,128.2 L858.4,127.2 L858.8,126.2 L859.2,125.2 L859.5,124.2 L859.9,123.2 L860.2,122.2Z" fill="#505a7b"/>
<line x1="863.90" y1="164.20" x2="863.90" y2="192.10" stroke="#000" stroke-width="2.2" />
<line x1="863.90" y1="252.60" x2="863.90" y2="284.70" stroke="#000" stroke-width="2.2" />
<rect x="859.90" y="191.10" width="8" height="62.50" rx="1.2" fill="#000"/>
<rect x="861.30" y="221.30" width="5.20" height="5.20" fill="#fff" />
<path d="M1021.8,122.2 L1022.0,123.2 L1022.1,124.2 L1022.2,125.2 L1022.4,126.2 L1022.5,127.2 L1022.6,128.2 L1022.7,129.2 L1022.9,130.2 L1023.0,131.2 L1023.1,132.2 L1023.2,133.2 L1023.3,134.2 L1023.4,135.2 L1023.4,136.2 L1023.5,137.2 L1023.6,138.2 L1023.6,139.2 L1023.6,140.2 L1023.7,141.2 L1023.7,142.2 L1023.7,143.2 L1023.8,144.2 L1023.8,145.2 L1023.8,146.2 L1023.8,147.2 L1023.8,148.2 L1023.9,149.2 L1023.9,150.2 L1023.9,151.2 L1023.9,152.2 L1024.0,153.2 L1024.0,154.2 L1024.0,155.2 L1024.1,156.2 L1024.1,157.2 L1024.1,158.2 L1024.1,159.2 L1024.2,160.2 L1024.2,161.2 L1024.2,162.2 L1024.2,163.2 L1024.2,164.2 L1024.1,165.2 L1024.1,166.2 L1024.1,167.2 L1024.1,168.2 L1024.0,169.2 L1024.0,170.2 L1024.0,171.2 L1024.0,172.2 L1023.9,173.2 L1023.9,174.2 L1023.9,175.2 L1023.9,176.2 L1023.8,177.2 L1023.8,178.2 L1023.8,179.2 L1023.8,180.2 L1023.8,181.2 L1023.8,182.2 L1023.8,183.2 L1023.8,184.2 L1023.8,185.2 L1023.7,186.2 L1023.7,187.2 L1023.7,188.2 L1023.7,189.2 L1023.7,190.2 L1023.7,191.2 L1023.7,192.2 L1023.7,193.2 L1023.7,194.2 L1023.7,195.2 L1023.7,196.2 L1023.7,197.2 L1023.8,198.2 L1023.8,199.2 L1023.8,200.2 L1023.9,201.2 L1023.9,202.2 L1024.0,203.2 L1024.1,204.2 L1024.2,205.2 L1024.3,206.2 L1024.4,207.2 L1024.5,208.2 L1024.6,209.2 L1024.7,210.2 L1024.9,211.2 L1025.0,212.2 L1025.2,213.2 L1025.4,214.2 L1025.6,215.2 L1025.8,216.2 L1026.0,217.2 L1026.2,218.2 L1026.4,219.2 L1026.6,220.2 L1026.8,221.2 L1027.1,222.2 L1027.3,223.2 L1027.5,224.2 L1027.8,225.2 L1028.0,226.2 L1028.3,227.2 L1028.5,228.2 L1028.8,229.2 L1029.0,230.2 L1029.3,231.2 L1029.5,232.2 L1029.8,233.2 L1030.0,234.2 L1030.3,235.2 L1030.5,236.2 L1030.8,237.2 L1031.1,238.2 L1031.4,239.2 L1031.6,240.2 L1031.9,241.2 L1032.2,242.2 L1032.5,243.2 L1032.8,244.2 L1033.1,245.2 L1033.4,246.2 L1033.8,247.2 L1034.1,248.2 L1034.4,249.2 L1034.8,250.2 L1035.2,251.2 L1035.5,252.2 L1035.9,253.2 L1036.3,254.2 L1036.6,255.2 L1037.0,256.2 L1037.4,257.2 L1037.8,258.2 L1038.1,259.2 L1038.5,260.2 L1038.9,261.2 L1039.3,262.2 L1039.7,263.2 L1040.1,264.2 L1040.4,265.2 L1040.8,266.2 L1041.2,267.2 L1041.6,268.2 L1041.9,269.2 L1042.3,270.2 L1042.6,271.2 L1042.9,272.2 L1043.2,273.2 L1043.5,274.2 L1043.8,275.2 L1044.1,276.2 L1044.3,277.2 L1044.6,278.2 L1044.8,279.2 L1045.1,280.2 L1045.3,281.2 L1045.5,282.2 L1045.7,283.2 L1045.9,284.2 L1046.1,285.2 L1046.2,286.2 L1046.4,287.2 L1046.5,288.2 L1046.7,289.2 L1046.8,290.2 L1046.9,291.2 L1047.0,292.2 L1047.1,293.2 L1047.2,294.2 L1047.3,295.2 L1047.4,296.2 L1047.4,297.2 L1047.5,298.2 L1047.5,299.2 L1047.6,300.2 L1047.6,301.2 L1047.6,302.2 L1047.6,303.2 L1047.6,304.2 L1047.6,305.2 L1047.6,306.2 L1047.6,307.2 L1047.5,308.2 L1047.4,309.2 L1047.3,310.2 L1047.2,311.2 L1047.0,312.2 L1046.9,313.2 L1046.7,314.2 L1046.5,315.2 L1046.3,316.2 L1046.1,317.2 L1045.9,318.2 L1045.6,319.2 L1045.4,320.2 L1045.1,321.2 L1044.8,322.2 L1044.5,323.2 L1044.2,324.2 L1043.9,325.2 L1043.6,326.2 L1043.3,327.2 L1043.0,328.2 L1042.6,329.2 L1042.3,330.2 L1042.0,331.2 L1041.6,332.2 L1041.3,333.2 L1040.9,334.2 L1040.6,335.2 L1040.2,336.2 L1039.9,337.2 L1039.5,338.2 L1039.1,339.2 L1038.8,340.2 L1038.4,341.2 L1038.0,342.2 L1037.6,343.2 L1037.2,344.2 L1036.9,345.2 L1036.5,346.2 L1036.1,347.2 L1035.7,348.2 L1035.4,349.2 L1035.0,350.2 L1034.6,351.2 L1034.3,352.2 L1033.9,353.2 L1033.6,354.2 L1033.2,355.2 L1032.9,356.2 L1032.5,357.2 L1032.2,358.2 L1031.8,359.2 L1031.5,360.2 L1031.1,361.2 L1030.8,362.2 L1030.5,363.2 L1030.1,364.2 L1029.8,365.2 L1029.5,366.2 L1029.1,367.2 L1028.8,368.2 L1028.5,369.2 L1028.2,370.2 L1027.8,371.2 L1027.5,372.2 L1027.2,373.2 L1026.8,374.2 L1026.5,375.2 L1026.2,376.2 L1025.8,377.2 L1025.5,378.2 L1025.2,379.2 L1024.9,380.2 L1024.6,381.2 L1024.2,382.2 L1023.9,383.2 L1023.6,384.2 L1023.3,385.2 L1023.0,386.2 L1022.7,387.2 L1022.4,388.2 L1022.2,389.2 L1021.9,390.2 L1021.6,391.2 L1021.3,392.2 L1021.1,393.2 L1020.8,394.2 L1020.6,395.2 L1020.4,396.2 L1020.2,397.2 L1019.9,398.2 L1019.7,399.2 L1019.5,400.2 L1019.3,401.2 L1019.2,402.2 L1019.0,403.2 L1018.8,404.2 L1018.7,405.2 L1018.6,406.2 L1018.4,407.2 L1018.3,408.2 L1018.2,409.2 L1018.1,410.2 L1018.1,411.2 L1018.0,412.2 L1017.9,413.2 L1017.9,413.5 L1013.9,413.5 L1013.9,413.2 L1013.8,412.2 L1013.7,411.2 L1013.7,410.2 L1013.6,409.2 L1013.5,408.2 L1013.4,407.2 L1013.2,406.2 L1013.1,405.2 L1013.0,404.2 L1012.8,403.2 L1012.6,402.2 L1012.5,401.2 L1012.3,400.2 L1012.1,399.2 L1011.9,398.2 L1011.6,397.2 L1011.4,396.2 L1011.2,395.2 L1011.0,394.2 L1010.7,393.2 L1010.5,392.2 L1010.2,391.2 L1009.9,390.2 L1009.6,389.2 L1009.4,388.2 L1009.1,387.2 L1008.8,386.2 L1008.5,385.2 L1008.2,384.2 L1007.9,383.2 L1007.6,382.2 L1007.2,381.2 L1006.9,380.2 L1006.6,379.2 L1006.3,378.2 L1006.0,377.2 L1005.6,376.2 L1005.3,375.2 L1005.0,374.2 L1004.6,373.2 L1004.3,372.2 L1004.0,371.2 L1003.6,370.2 L1003.3,369.2 L1003.0,368.2 L1002.7,367.2 L1002.3,366.2 L1002.0,365.2 L1001.7,364.2 L1001.3,363.2 L1001.0,362.2 L1000.7,361.2 L1000.3,360.2 L1000.0,359.2 L999.6,358.2 L999.3,357.2 L998.9,356.2 L998.6,355.2 L998.2,354.2 L997.9,353.2 L997.5,352.2 L997.2,351.2 L996.8,350.2 L996.4,349.2 L996.1,348.2 L995.7,347.2 L995.3,346.2 L994.9,345.2 L994.6,344.2 L994.2,343.2 L993.8,342.2 L993.4,341.2 L993.0,340.2 L992.7,339.2 L992.3,338.2 L991.9,337.2 L991.6,336.2 L991.2,335.2 L990.9,334.2 L990.5,333.2 L990.2,332.2 L989.8,331.2 L989.5,330.2 L989.2,329.2 L988.8,328.2 L988.5,327.2 L988.2,326.2 L987.9,325.2 L987.6,324.2 L987.3,323.2 L987.0,322.2 L986.7,321.2 L986.4,320.2 L986.2,319.2 L985.9,318.2 L985.7,317.2 L985.5,316.2 L985.3,315.2 L985.1,314.2 L984.9,313.2 L984.8,312.2 L984.6,311.2 L984.5,310.2 L984.4,309.2 L984.3,308.2 L984.2,307.2 L984.2,306.2 L984.2,305.2 L984.2,304.2 L984.2,303.2 L984.2,302.2 L984.2,301.2 L984.2,300.2 L984.3,299.2 L984.3,298.2 L984.4,297.2 L984.4,296.2 L984.5,295.2 L984.6,294.2 L984.7,293.2 L984.8,292.2 L984.9,291.2 L985.0,290.2 L985.1,289.2 L985.3,288.2 L985.4,287.2 L985.6,286.2 L985.7,285.2 L985.9,284.2 L986.1,283.2 L986.3,282.2 L986.5,281.2 L986.7,280.2 L987.0,279.2 L987.2,278.2 L987.5,277.2 L987.7,276.2 L988.0,275.2 L988.3,274.2 L988.6,273.2 L988.9,272.2 L989.2,271.2 L989.5,270.2 L989.9,269.2 L990.2,268.2 L990.6,267.2 L991.0,266.2 L991.4,265.2 L991.7,264.2 L992.1,263.2 L992.5,262.2 L992.9,261.2 L993.3,260.2 L993.7,259.2 L994.0,258.2 L994.4,257.2 L994.8,256.2 L995.2,255.2 L995.5,254.2 L995.9,253.2 L996.3,252.2 L996.6,251.2 L997.0,250.2 L997.4,249.2 L997.7,248.2 L998.0,247.2 L998.4,246.2 L998.7,245.2 L999.0,244.2 L999.3,243.2 L999.6,242.2 L999.9,241.2 L1000.2,240.2 L1000.4,239.2 L1000.7,238.2 L1001.0,237.2 L1001.3,236.2 L1001.5,235.2 L1001.8,234.2 L1002.0,233.2 L1002.3,232.2 L1002.5,231.2 L1002.8,230.2 L1003.0,229.2 L1003.3,228.2 L1003.5,227.2 L1003.8,226.2 L1004.0,225.2 L1004.3,224.2 L1004.5,223.2 L1004.7,222.2 L1005.0,221.2 L1005.2,220.2 L1005.4,219.2 L1005.6,218.2 L1005.8,217.2 L1006.0,216.2 L1006.2,215.2 L1006.4,214.2 L1006.6,213.2 L1006.8,212.2 L1006.9,211.2 L1007.1,210.2 L1007.2,209.2 L1007.3,208.2 L1007.4,207.2 L1007.5,206.2 L1007.6,205.2 L1007.7,204.2 L1007.8,203.2 L1007.9,202.2 L1007.9,201.2 L1008.0,200.2 L1008.0,199.2 L1008.0,198.2 L1008.1,197.2 L1008.1,196.2 L1008.1,195.2 L1008.1,194.2 L1008.1,193.2 L1008.1,192.2 L1008.1,191.2 L1008.1,190.2 L1008.1,189.2 L1008.1,188.2 L1008.1,187.2 L1008.1,186.2 L1008.0,185.2 L1008.0,184.2 L1008.0,183.2 L1008.0,182.2 L1008.0,181.2 L1008.0,180.2 L1008.0,179.2 L1008.0,178.2 L1008.0,177.2 L1007.9,176.2 L1007.9,175.2 L1007.9,174.2 L1007.9,173.2 L1007.8,172.2 L1007.8,171.2 L1007.8,170.2 L1007.8,169.2 L1007.7,168.2 L1007.7,167.2 L1007.7,166.2 L1007.7,165.2 L1007.6,164.2 L1007.6,163.2 L1007.6,162.2 L1007.6,161.2 L1007.6,160.2 L1007.7,159.2 L1007.7,158.2 L1007.7,157.2 L1007.7,156.2 L1007.8,155.2 L1007.8,154.2 L1007.8,153.2 L1007.9,152.2 L1007.9,151.2 L1007.9,150.2 L1007.9,149.2 L1008.0,148.2 L1008.0,147.2 L1008.0,146.2 L1008.0,145.2 L1008.0,144.2 L1008.1,143.2 L1008.1,142.2 L1008.1,141.2 L1008.2,140.2 L1008.2,139.2 L1008.2,138.2 L1008.3,137.2 L1008.4,136.2 L1008.4,135.2 L1008.5,134.2 L1008.6,133.2 L1008.7,132.2 L1008.8,131.2 L1008.9,130.2 L1009.1,129.2 L1009.2,128.2 L1009.3,127.2 L1009.4,126.2 L1009.6,125.2 L1009.7,124.2 L1009.8,123.2 L1010.0,122.2Z" fill="#9ba3be"/>
<line x1="1015.90" y1="154.10" x2="1015.90" y2="286.50" stroke="#000" stroke-width="2.2" />
<line x1="1015.90" y1="301.70" x2="1015.90" y2="338.70" stroke="#000" stroke-width="2.2" />
<rect x="1011.90" y="285.50" width="8" height="17.20" rx="1.2" fill="#000"/>
<rect x="1012.80" y="271.80" width="6.20" height="5.00" fill="#000" />
<rect x="1014.00" y="271.80" width="3.80" height="5.00" fill="#fff" />
<path d="M1182.0,122.1 L1182.4,123.1 L1182.8,124.1 L1183.2,125.1 L1183.6,126.1 L1183.9,127.1 L1184.3,128.1 L1184.7,129.1 L1185.1,130.1 L1185.4,131.1 L1185.8,132.1 L1186.2,133.1 L1186.6,134.1 L1186.9,135.1 L1187.3,136.1 L1187.7,137.1 L1188.0,138.1 L1188.4,139.1 L1188.8,140.1 L1189.1,141.1 L1189.5,142.1 L1189.9,143.1 L1190.2,144.1 L1190.6,145.1 L1191.0,146.1 L1191.3,147.1 L1191.7,148.1 L1192.0,149.1 L1192.4,150.1 L1192.7,151.1 L1193.1,152.1 L1193.4,153.1 L1193.8,154.1 L1194.1,155.1 L1194.4,156.1 L1194.7,157.1 L1195.0,158.1 L1195.3,159.1 L1195.6,160.1 L1195.9,161.1 L1196.2,162.1 L1196.5,163.1 L1196.7,164.1 L1197.0,165.1 L1197.2,166.1 L1197.5,167.1 L1197.7,168.1 L1197.9,169.1 L1198.1,170.1 L1198.4,171.1 L1198.6,172.1 L1198.8,173.1 L1199.0,174.1 L1199.2,175.1 L1199.4,176.1 L1199.6,177.1 L1199.8,178.1 L1200.0,179.1 L1200.2,180.1 L1200.4,181.1 L1200.6,182.1 L1200.7,183.1 L1200.9,184.1 L1201.1,185.1 L1201.2,186.1 L1201.4,187.1 L1201.5,188.1 L1201.7,189.1 L1201.8,190.1 L1202.0,191.1 L1202.1,192.1 L1202.2,193.1 L1202.3,194.1 L1202.4,195.1 L1202.5,196.1 L1202.6,197.1 L1202.6,198.1 L1202.7,199.1 L1202.7,200.1 L1202.8,201.1 L1202.8,202.1 L1202.8,203.1 L1202.8,204.1 L1202.9,205.1 L1202.8,206.1 L1202.8,207.1 L1202.8,208.1 L1202.8,209.1 L1202.7,210.1 L1202.7,211.1 L1202.6,212.1 L1202.6,213.1 L1202.5,214.1 L1202.4,215.1 L1202.3,216.1 L1202.2,217.1 L1202.1,218.1 L1202.0,219.1 L1201.9,220.1 L1201.8,221.1 L1201.7,222.1 L1201.5,223.1 L1201.4,224.1 L1201.3,225.1 L1201.2,226.1 L1201.1,227.1 L1200.9,228.1 L1200.8,229.1 L1200.7,230.1 L1200.6,231.1 L1200.4,232.1 L1200.3,233.1 L1200.2,234.1 L1200.0,235.1 L1199.9,236.1 L1199.8,237.1 L1199.6,238.1 L1199.5,239.1 L1199.4,240.1 L1199.3,241.1 L1199.1,242.1 L1199.0,243.1 L1198.9,244.1 L1198.9,245.1 L1198.8,246.1 L1198.7,247.1 L1198.6,248.1 L1198.5,249.1 L1198.5,250.1 L1198.4,251.1 L1198.3,252.1 L1198.3,253.1 L1198.2,254.1 L1198.2,255.1 L1198.1,256.1 L1198.1,257.1 L1198.0,258.1 L1198.0,259.1 L1198.0,260.1 L1198.0,261.1 L1198.0,262.1 L1198.0,263.1 L1198.0,264.1 L1198.0,265.1 L1198.1,266.1 L1198.1,267.1 L1198.2,268.1 L1198.2,269.1 L1198.3,270.1 L1198.4,271.1 L1198.4,272.1 L1198.5,273.1 L1198.6,274.1 L1198.7,275.1 L1198.8,276.1 L1198.9,277.1 L1199.0,278.1 L1199.1,279.1 L1199.2,280.1 L1199.4,281.1 L1199.5,282.1 L1199.7,283.1 L1199.9,284.1 L1200.0,285.1 L1200.2,286.1 L1200.4,287.1 L1200.7,288.1 L1200.9,289.1 L1201.1,290.1 L1201.3,291.1 L1201.6,292.1 L1201.8,293.1 L1202.0,294.1 L1202.3,295.1 L1202.5,296.1 L1202.8,297.1 L1203.0,298.1 L1203.3,299.1 L1203.5,300.1 L1203.8,301.1 L1204.0,302.1 L1204.3,303.1 L1204.5,304.1 L1204.8,305.1 L1205.0,306.1 L1205.3,307.1 L1205.5,308.1 L1205.8,309.1 L1206.0,310.1 L1206.3,311.1 L1206.5,312.1 L1206.7,313.1 L1207.0,314.1 L1207.2,315.1 L1207.5,316.1 L1207.7,317.1 L1208.0,318.1 L1208.2,319.1 L1208.4,320.1 L1208.7,321.1 L1208.9,322.1 L1209.1,323.1 L1209.3,324.1 L1209.5,325.1 L1209.7,326.1 L1209.9,327.1 L1210.1,328.1 L1210.3,329.1 L1210.5,330.1 L1210.7,331.1 L1210.8,332.1 L1211.0,333.1 L1211.2,334.1 L1211.3,335.1 L1211.5,336.1 L1211.6,337.1 L1211.8,338.1 L1211.9,339.1 L1212.0,340.1 L1212.1,341.1 L1212.2,342.1 L1212.3,343.1 L1212.4,344.1 L1212.4,345.1 L1212.5,346.1 L1212.5,347.1 L1212.6,348.1 L1212.6,349.1 L1212.6,350.1 L1212.6,351.1 L1212.6,352.1 L1212.6,353.1 L1212.6,354.1 L1212.6,355.1 L1212.6,356.1 L1212.5,357.1 L1212.5,358.1 L1212.4,359.1 L1212.3,360.1 L1212.2,361.1 L1212.1,362.1 L1212.0,363.1 L1211.9,364.1 L1211.7,365.1 L1211.6,366.1 L1211.4,367.1 L1211.2,368.1 L1211.0,369.1 L1210.8,370.1 L1210.6,371.1 L1210.4,372.1 L1210.1,373.1 L1209.8,374.1 L1209.5,375.1 L1209.2,376.1 L1208.9,377.1 L1208.5,378.1 L1208.2,379.1 L1207.8,380.1 L1207.4,381.1 L1207.0,382.1 L1206.5,383.1 L1206.1,384.1 L1205.7,385.1 L1205.2,386.1 L1204.8,387.1 L1204.4,388.1 L1203.9,389.1 L1203.5,390.1 L1203.0,391.1 L1202.6,392.1 L1202.1,393.1 L1201.7,394.1 L1201.2,395.1 L1200.8,396.1 L1200.4,397.1 L1200.0,398.1 L1199.6,399.1 L1199.2,400.1 L1198.8,401.1 L1198.4,402.1 L1198.0,403.1 L1197.6,404.1 L1197.2,405.1 L1196.9,406.1 L1196.5,407.1 L1196.1,408.1 L1195.8,409.1 L1195.4,410.1 L1195.1,411.1 L1194.8,412.1 L1194.4,413.1 L1194.2,413.6 L1141.8,413.6 L1141.6,413.1 L1141.2,412.1 L1140.9,411.1 L1140.6,410.1 L1140.2,409.1 L1139.9,408.1 L1139.5,407.1 L1139.1,406.1 L1138.8,405.1 L1138.4,404.1 L1138.0,403.1 L1137.6,402.1 L1137.2,401.1 L1136.8,400.1 L1136.4,399.1 L1136.0,398.1 L1135.6,397.1 L1135.2,396.1 L1134.8,395.1 L1134.3,394.1 L1133.9,393.1 L1133.4,392.1 L1133.0,391.1 L1132.5,390.1 L1132.1,389.1 L1131.6,388.1 L1131.2,387.1 L1130.8,386.1 L1130.3,385.1 L1129.9,384.1 L1129.5,383.1 L1129.0,382.1 L1128.6,381.1 L1128.2,380.1 L1127.8,379.1 L1127.5,378.1 L1127.1,377.1 L1126.8,376.1 L1126.5,375.1 L1126.2,374.1 L1125.9,373.1 L1125.6,372.1 L1125.4,371.1 L1125.2,370.1 L1125.0,369.1 L1124.8,368.1 L1124.6,367.1 L1124.4,366.1 L1124.3,365.1 L1124.1,364.1 L1124.0,363.1 L1123.9,362.1 L1123.8,361.1 L1123.7,360.1 L1123.6,359.1 L1123.5,358.1 L1123.5,357.1 L1123.4,356.1 L1123.4,355.1 L1123.4,354.1 L1123.4,353.1 L1123.4,352.1 L1123.4,351.1 L1123.4,350.1 L1123.4,349.1 L1123.4,348.1 L1123.5,347.1 L1123.5,346.1 L1123.6,345.1 L1123.6,344.1 L1123.7,343.1 L1123.8,342.1 L1123.9,341.1 L1124.0,340.1 L1124.1,339.1 L1124.2,338.1 L1124.4,337.1 L1124.5,336.1 L1124.7,335.1 L1124.8,334.1 L1125.0,333.1 L1125.2,332.1 L1125.3,331.1 L1125.5,330.1 L1125.7,329.1 L1125.9,328.1 L1126.1,327.1 L1126.3,326.1 L1126.5,325.1 L1126.7,324.1 L1126.9,323.1 L1127.1,322.1 L1127.3,321.1 L1127.6,320.1 L1127.8,319.1 L1128.0,318.1 L1128.3,317.1 L1128.5,316.1 L1128.8,315.1 L1129.0,314.1 L1129.3,313.1 L1129.5,312.1 L1129.7,311.1 L1130.0,310.1 L1130.2,309.1 L1130.5,308.1 L1130.7,307.1 L1131.0,306.1 L1131.2,305.1 L1131.5,304.1 L1131.7,303.1 L1132.0,302.1 L1132.2,301.1 L1132.5,300.1 L1132.7,299.1 L1133.0,298.1 L1133.2,297.1 L1133.5,296.1 L1133.7,295.1 L1134.0,294.1 L1134.2,293.1 L1134.4,292.1 L1134.7,291.1 L1134.9,290.1 L1135.1,289.1 L1135.3,288.1 L1135.6,287.1 L1135.8,286.1 L1136.0,285.1 L1136.1,284.1 L1136.3,283.1 L1136.5,282.1 L1136.6,281.1 L1136.8,280.1 L1136.9,279.1 L1137.0,278.1 L1137.1,277.1 L1137.2,276.1 L1137.3,275.1 L1137.4,274.1 L1137.5,273.1 L1137.6,272.1 L1137.6,271.1 L1137.7,270.1 L1137.8,269.1 L1137.8,268.1 L1137.9,267.1 L1137.9,266.1 L1138.0,265.1 L1138.0,264.1 L1138.0,263.1 L1138.0,262.1 L1138.0,261.1 L1138.0,260.1 L1138.0,259.1 L1138.0,258.1 L1137.9,257.1 L1137.9,256.1 L1137.8,255.1 L1137.8,254.1 L1137.7,253.1 L1137.7,252.1 L1137.6,251.1 L1137.5,250.1 L1137.5,249.1 L1137.4,248.1 L1137.3,247.1 L1137.2,246.1 L1137.1,245.1 L1137.1,244.1 L1137.0,243.1 L1136.9,242.1 L1136.7,241.1 L1136.6,240.1 L1136.5,239.1 L1136.4,238.1 L1136.2,237.1 L1136.1,236.1 L1136.0,235.1 L1135.8,234.1 L1135.7,233.1 L1135.6,232.1 L1135.4,231.1 L1135.3,230.1 L1135.2,229.1 L1135.1,228.1 L1134.9,227.1 L1134.8,226.1 L1134.7,225.1 L1134.6,224.1 L1134.5,223.1 L1134.3,222.1 L1134.2,221.1 L1134.1,220.1 L1134.0,219.1 L1133.9,218.1 L1133.8,217.1 L1133.7,216.1 L1133.6,215.1 L1133.5,214.1 L1133.4,213.1 L1133.4,212.1 L1133.3,211.1 L1133.3,210.1 L1133.2,209.1 L1133.2,208.1 L1133.2,207.1 L1133.2,206.1 L1133.1,205.1 L1133.2,204.1 L1133.2,203.1 L1133.2,202.1 L1133.2,201.1 L1133.3,200.1 L1133.3,199.1 L1133.4,198.1 L1133.4,197.1 L1133.5,196.1 L1133.6,195.1 L1133.7,194.1 L1133.8,193.1 L1133.9,192.1 L1134.0,191.1 L1134.2,190.1 L1134.3,189.1 L1134.5,188.1 L1134.6,187.1 L1134.8,186.1 L1134.9,185.1 L1135.1,184.1 L1135.3,183.1 L1135.4,182.1 L1135.6,181.1 L1135.8,180.1 L1136.0,179.1 L1136.2,178.1 L1136.4,177.1 L1136.6,176.1 L1136.8,175.1 L1137.0,174.1 L1137.2,173.1 L1137.4,172.1 L1137.6,171.1 L1137.9,170.1 L1138.1,169.1 L1138.3,168.1 L1138.5,167.1 L1138.8,166.1 L1139.0,165.1 L1139.3,164.1 L1139.5,163.1 L1139.8,162.1 L1140.1,161.1 L1140.4,160.1 L1140.7,159.1 L1141.0,158.1 L1141.3,157.1 L1141.6,156.1 L1141.9,155.1 L1142.2,154.1 L1142.6,153.1 L1142.9,152.1 L1143.3,151.1 L1143.6,150.1 L1144.0,149.1 L1144.3,148.1 L1144.7,147.1 L1145.0,146.1 L1145.4,145.1 L1145.8,144.1 L1146.1,143.1 L1146.5,142.1 L1146.9,141.1 L1147.2,140.1 L1147.6,139.1 L1148.0,138.1 L1148.3,137.1 L1148.7,136.1 L1149.1,135.1 L1149.4,134.1 L1149.8,133.1 L1150.2,132.1 L1150.6,131.1 L1150.9,130.1 L1151.3,129.1 L1151.7,128.1 L1152.1,127.1 L1152.4,126.1 L1152.8,125.1 L1153.2,124.1 L1153.6,123.1 L1154.0,122.1Z" fill="#ddd5c4"/>
<line x1="1168.00" y1="169.00" x2="1168.00" y2="205.90" stroke="#000" stroke-width="2.2" />
<line x1="1168.00" y1="359.80" x2="1168.00" y2="388.00" stroke="#000" stroke-width="2.2" />
<rect x="1164.00" y="204.90" width="8" height="155.90" rx="1.2" fill="#000"/>
<rect x="1165.40" y="284.50" width="5.20" height="5.20" fill="#fff" />
<line x1="940" y1="90" x2="940" y2="447" stroke="#7a7a7a" stroke-width="2" stroke-dasharray="3 7" stroke-dashoffset="-3"/>
<line x1="1092" y1="90" x2="1092" y2="447" stroke="#7a7a7a" stroke-width="2" stroke-dasharray="3 7" stroke-dashoffset="-3"/>
<line x1="780.50" y1="88.00" x2="1244.50" y2="88.00" stroke="#000" stroke-width="2.2" />
<line x1="787.90" y1="448.00" x2="1244.50" y2="448.00" stroke="#000" stroke-width="2.2" />
<line x1="788.50" y1="88.00" x2="788.50" y2="448.00" stroke="#000" stroke-width="1.2" />
<line x1="1244.00" y1="88.00" x2="1244.00" y2="449.00" stroke="#000" stroke-width="1.6" />
<line x1="780.50" y1="88.00" x2="788.50" y2="88.00" stroke="#000" stroke-width="2" />
<text x="773.50" y="96.50" font-size="29.5" text-anchor="end" fill="#000" >1200</text>
<line x1="780.50" y1="153.40" x2="788.50" y2="153.40" stroke="#000" stroke-width="2" />
<text x="773.50" y="161.90" font-size="29.5" text-anchor="end" fill="#000" >1000</text>
<line x1="780.50" y1="218.80" x2="788.50" y2="218.80" stroke="#000" stroke-width="2" />
<text x="773.50" y="227.30" font-size="29.5" text-anchor="end" fill="#000" >800</text>
<line x1="780.50" y1="284.20" x2="788.50" y2="284.20" stroke="#000" stroke-width="2" />
<text x="773.50" y="292.70" font-size="29.5" text-anchor="end" fill="#000" >600</text>
<line x1="780.50" y1="349.60" x2="788.50" y2="349.60" stroke="#000" stroke-width="2" />
<text x="773.50" y="358.10" font-size="29.5" text-anchor="end" fill="#000" >400</text>
<line x1="780.50" y1="415.00" x2="788.50" y2="415.00" stroke="#000" stroke-width="2" />
<text x="773.50" y="423.50" font-size="29.5" text-anchor="end" fill="#000" >200</text>
<line x1="864.00" y1="448.00" x2="864.00" y2="456.00" stroke="#000" stroke-width="1.2" />
<line x1="1016.00" y1="448.00" x2="1016.00" y2="456.00" stroke="#000" stroke-width="1.2" />
<line x1="1168.00" y1="448.00" x2="1168.00" y2="456.00" stroke="#000" stroke-width="1.2" />
<text x="864.00" y="485.00" font-size="30" text-anchor="middle" fill="#000" >CK</text>
<text x="1016.00" y="485.00" font-size="30" text-anchor="middle" fill="#000" >DG</text>
<text x="1169.00" y="485.00" font-size="30" text-anchor="middle" fill="#000" >VR</text>
<text x="864.00" y="114.50" font-size="30" text-anchor="middle" fill="#000" >a</text>
<text x="1016.00" y="114.50" font-size="30" text-anchor="middle" fill="#000" >ab</text>
<text x="1168.00" y="114.50" font-size="30" text-anchor="middle" fill="#000" >b</text>
<text x="684.00" y="57.70" font-size="31" text-anchor="start" fill="#000" >(b)</text>
<text transform="translate(711.00,267.80) rotate(-90)" font-size="29.5" text-anchor="middle">Individuals abundance</text>
<path d="M202.9,590.2 L203.1,591.2 L203.4,592.2 L203.6,593.2 L203.9,594.2 L204.2,595.2 L204.5,596.2 L204.8,597.2 L205.1,598.2 L205.5,599.2 L205.8,600.2 L206.1,601.2 L206.4,602.2 L206.8,603.2 L207.1,604.2 L207.4,605.2 L207.7,606.2 L208.0,607.2 L208.4,608.2 L208.7,609.2 L209.0,610.2 L209.3,611.2 L209.7,612.2 L210.0,613.2 L210.4,614.2 L210.7,615.2 L211.0,616.2 L211.4,617.2 L211.7,618.2 L212.1,619.2 L212.4,620.2 L212.8,621.2 L213.2,622.2 L213.5,623.2 L213.9,624.2 L214.2,625.2 L214.6,626.2 L214.9,627.2 L215.3,628.2 L215.6,629.2 L216.0,630.2 L216.3,631.2 L216.7,632.2 L217.0,633.2 L217.4,634.2 L217.7,635.2 L218.1,636.2 L218.4,637.2 L218.8,638.2 L219.1,639.2 L219.5,640.2 L219.8,641.2 L220.1,642.2 L220.5,643.2 L220.8,644.2 L221.2,645.2 L221.5,646.2 L221.9,647.2 L222.2,648.2 L222.5,649.2 L222.9,650.2 L223.2,651.2 L223.6,652.2 L223.9,653.2 L224.3,654.2 L224.6,655.2 L224.9,656.2 L225.3,657.2 L225.6,658.2 L225.9,659.2 L226.3,660.2 L226.6,661.2 L226.9,662.2 L227.2,663.2 L227.5,664.2 L227.8,665.2 L228.1,666.2 L228.4,667.2 L228.7,668.2 L229.0,669.2 L229.3,670.2 L229.6,671.2 L229.8,672.2 L230.1,673.2 L230.3,674.2 L230.6,675.2 L230.8,676.2 L231.0,677.2 L231.2,678.2 L231.4,679.2 L231.6,680.2 L231.8,681.2 L232.0,682.2 L232.1,683.2 L232.3,684.2 L232.4,685.2 L232.6,686.2 L232.7,687.2 L232.8,688.2 L232.9,689.2 L233.0,690.2 L233.2,691.2 L233.2,692.2 L233.3,693.2 L233.4,694.2 L233.5,695.2 L233.5,696.2 L233.5,697.2 L233.5,698.2 L233.5,699.2 L233.5,700.2 L233.5,701.2 L233.5,702.2 L233.4,703.2 L233.4,704.2 L233.3,705.2 L233.3,706.2 L233.2,707.2 L233.1,708.2 L233.0,709.2 L232.9,710.2 L232.8,711.2 L232.7,712.2 L232.5,713.2 L232.3,714.2 L232.2,715.2 L232.0,716.2 L231.8,717.2 L231.7,718.2 L231.5,719.2 L231.3,720.2 L231.1,721.2 L230.9,722.2 L230.7,723.2 L230.5,724.2 L230.3,725.2 L230.1,726.2 L229.9,727.2 L229.6,728.2 L229.4,729.2 L229.2,730.2 L228.9,731.2 L228.6,732.2 L228.4,733.2 L228.1,734.2 L227.9,735.2 L227.6,736.2 L227.3,737.2 L227.0,738.2 L226.8,739.2 L226.5,740.2 L226.2,741.2 L226.0,742.2 L225.7,743.2 L225.4,744.2 L225.2,745.2 L224.9,746.2 L224.7,747.2 L224.4,748.2 L224.1,749.2 L223.9,750.2 L223.6,751.2 L223.4,752.2 L223.1,753.2 L222.9,754.2 L222.6,755.2 L222.3,756.2 L222.1,757.2 L221.8,758.2 L221.6,759.2 L221.3,760.2 L221.1,761.2 L220.8,762.2 L220.6,763.2 L220.4,764.2 L220.1,765.2 L219.9,766.2 L219.7,767.2 L219.5,768.2 L219.3,769.2 L219.1,770.2 L218.9,771.2 L218.7,772.2 L218.5,773.2 L218.3,774.2 L218.1,775.2 L218.0,776.2 L217.8,777.2 L217.6,778.2 L217.5,779.2 L217.3,780.2 L217.2,781.2 L217.0,782.2 L216.9,783.2 L216.7,784.2 L216.6,785.2 L216.5,786.2 L216.4,787.2 L216.3,788.2 L216.2,789.2 L216.1,790.2 L216.0,791.2 L215.9,792.2 L215.8,793.2 L215.7,794.2 L215.6,795.2 L215.5,796.2 L215.5,797.2 L215.4,798.2 L215.3,799.2 L215.2,800.2 L215.2,801.2 L215.1,802.2 L215.0,803.2 L215.0,804.2 L214.9,805.2 L214.8,806.2 L214.8,807.2 L214.7,808.2 L214.7,809.2 L214.6,810.2 L214.6,811.2 L214.5,812.2 L214.5,813.2 L214.4,814.2 L214.4,815.2 L214.3,816.2 L214.3,817.2 L214.2,818.2 L214.2,819.2 L214.2,820.2 L214.1,821.2 L214.1,822.2 L214.1,823.2 L214.0,824.2 L214.0,825.2 L213.9,826.2 L213.9,827.2 L213.8,828.2 L213.8,829.2 L213.7,830.2 L213.6,831.2 L213.5,832.2 L213.4,833.2 L213.3,834.2 L213.2,835.2 L213.1,836.2 L213.0,837.2 L212.9,838.2 L212.8,839.2 L212.7,840.2 L212.6,841.2 L212.5,842.2 L212.4,843.2 L212.3,844.2 L212.2,845.2 L212.1,846.2 L212.0,847.2 L211.9,848.2 L211.8,849.2 L211.7,850.2 L211.6,851.2 L211.5,852.2 L211.4,853.2 L211.3,854.2 L211.2,855.2 L211.1,856.2 L211.0,857.2 L210.9,858.2 L210.8,859.2 L210.7,860.2 L210.6,861.2 L210.4,862.2 L210.3,863.2 L210.2,864.2 L210.0,865.2 L209.9,866.2 L209.7,867.2 L209.6,868.2 L209.4,869.2 L209.3,870.2 L209.1,871.2 L209.0,872.2 L208.8,873.2 L208.7,874.2 L208.5,875.2 L208.4,876.2 L208.2,877.2 L208.1,878.2 L207.9,879.2 L207.8,880.2 L207.6,881.2 L207.5,882.2 L207.4,883.2 L207.3,884.2 L207.2,885.2 L207.1,886.2 L207.0,887.2 L206.9,887.8 L183.9,887.8 L183.8,887.2 L183.7,886.2 L183.6,885.2 L183.5,884.2 L183.4,883.2 L183.3,882.2 L183.2,881.2 L183.0,880.2 L182.9,879.2 L182.7,878.2 L182.6,877.2 L182.4,876.2 L182.3,875.2 L182.1,874.2 L182.0,873.2 L181.8,872.2 L181.7,871.2 L181.5,870.2 L181.4,869.2 L181.2,868.2 L181.1,867.2 L180.9,866.2 L180.8,865.2 L180.6,864.2 L180.5,863.2 L180.4,862.2 L180.2,861.2 L180.1,860.2 L180.0,859.2 L179.9,858.2 L179.8,857.2 L179.7,856.2 L179.6,855.2 L179.5,854.2 L179.4,853.2 L179.3,852.2 L179.2,851.2 L179.1,850.2 L179.0,849.2 L178.9,848.2 L178.8,847.2 L178.7,846.2 L178.6,845.2 L178.5,844.2 L178.4,843.2 L178.3,842.2 L178.2,841.2 L178.1,840.2 L178.0,839.2 L177.9,838.2 L177.8,837.2 L177.7,836.2 L177.6,835.2 L177.5,834.2 L177.4,833.2 L177.3,832.2 L177.2,831.2 L177.1,830.2 L177.0,829.2 L177.0,828.2 L176.9,827.2 L176.9,826.2 L176.8,825.2 L176.8,824.2 L176.7,823.2 L176.7,822.2 L176.7,821.2 L176.6,820.2 L176.6,819.2 L176.6,818.2 L176.5,817.2 L176.5,816.2 L176.4,815.2 L176.4,814.2 L176.3,813.2 L176.3,812.2 L176.2,811.2 L176.2,810.2 L176.1,809.2 L176.1,808.2 L176.0,807.2 L176.0,806.2 L175.9,805.2 L175.8,804.2 L175.8,803.2 L175.7,802.2 L175.6,801.2 L175.6,800.2 L175.5,799.2 L175.4,798.2 L175.3,797.2 L175.3,796.2 L175.2,795.2 L175.1,794.2 L175.0,793.2 L174.9,792.2 L174.8,791.2 L174.7,790.2 L174.6,789.2 L174.5,788.2 L174.4,787.2 L174.3,786.2 L174.2,785.2 L174.1,784.2 L173.9,783.2 L173.8,782.2 L173.6,781.2 L173.5,780.2 L173.3,779.2 L173.2,778.2 L173.0,777.2 L172.8,776.2 L172.7,775.2 L172.5,774.2 L172.3,773.2 L172.1,772.2 L171.9,771.2 L171.7,770.2 L171.5,769.2 L171.3,768.2 L171.1,767.2 L170.9,766.2 L170.7,765.2 L170.4,764.2 L170.2,763.2 L170.0,762.2 L169.7,761.2 L169.5,760.2 L169.2,759.2 L169.0,758.2 L168.7,757.2 L168.5,756.2 L168.2,755.2 L167.9,754.2 L167.7,753.2 L167.4,752.2 L167.2,751.2 L166.9,750.2 L166.7,749.2 L166.4,748.2 L166.1,747.2 L165.9,746.2 L165.6,745.2 L165.4,744.2 L165.1,743.2 L164.8,742.2 L164.6,741.2 L164.3,740.2 L164.0,739.2 L163.8,738.2 L163.5,737.2 L163.2,736.2 L162.9,735.2 L162.7,734.2 L162.4,733.2 L162.2,732.2 L161.9,731.2 L161.6,730.2 L161.4,729.2 L161.2,728.2 L160.9,727.2 L160.7,726.2 L160.5,725.2 L160.3,724.2 L160.1,723.2 L159.9,722.2 L159.7,721.2 L159.5,720.2 L159.3,719.2 L159.1,718.2 L159.0,717.2 L158.8,716.2 L158.6,715.2 L158.5,714.2 L158.3,713.2 L158.1,712.2 L158.0,711.2 L157.9,710.2 L157.8,709.2 L157.7,708.2 L157.6,707.2 L157.5,706.2 L157.5,705.2 L157.4,704.2 L157.4,703.2 L157.3,702.2 L157.3,701.2 L157.3,700.2 L157.3,699.2 L157.3,698.2 L157.3,697.2 L157.3,696.2 L157.3,695.2 L157.4,694.2 L157.5,693.2 L157.6,692.2 L157.6,691.2 L157.8,690.2 L157.9,689.2 L158.0,688.2 L158.1,687.2 L158.2,686.2 L158.4,685.2 L158.5,684.2 L158.7,683.2 L158.8,682.2 L159.0,681.2 L159.2,680.2 L159.4,679.2 L159.6,678.2 L159.8,677.2 L160.0,676.2 L160.2,675.2 L160.5,674.2 L160.7,673.2 L161.0,672.2 L161.2,671.2 L161.5,670.2 L161.8,669.2 L162.1,668.2 L162.4,667.2 L162.7,666.2 L163.0,665.2 L163.3,664.2 L163.6,663.2 L163.9,662.2 L164.2,661.2 L164.5,660.2 L164.9,659.2 L165.2,658.2 L165.5,657.2 L165.9,656.2 L166.2,655.2 L166.5,654.2 L166.9,653.2 L167.2,652.2 L167.6,651.2 L167.9,650.2 L168.3,649.2 L168.6,648.2 L168.9,647.2 L169.3,646.2 L169.6,645.2 L170.0,644.2 L170.3,643.2 L170.7,642.2 L171.0,641.2 L171.3,640.2 L171.7,639.2 L172.0,638.2 L172.4,637.2 L172.7,636.2 L173.1,635.2 L173.4,634.2 L173.8,633.2 L174.1,632.2 L174.5,631.2 L174.8,630.2 L175.2,629.2 L175.5,628.2 L175.9,627.2 L176.2,626.2 L176.6,625.2 L176.9,624.2 L177.3,623.2 L177.6,622.2 L178.0,621.2 L178.4,620.2 L178.7,619.2 L179.1,618.2 L179.4,617.2 L179.8,616.2 L180.1,615.2 L180.4,614.2 L180.8,613.2 L181.1,612.2 L181.5,611.2 L181.8,610.2 L182.1,609.2 L182.4,608.2 L182.8,607.2 L183.1,606.2 L183.4,605.2 L183.7,604.2 L184.0,603.2 L184.4,602.2 L184.7,601.2 L185.0,600.2 L185.3,599.2 L185.7,598.2 L186.0,597.2 L186.3,596.2 L186.6,595.2 L186.9,594.2 L187.2,593.2 L187.4,592.2 L187.7,591.2 L187.9,590.2Z" fill="#505a7b"/>
<line x1="195.40" y1="647.10" x2="195.40" y2="696.70" stroke="#000" stroke-width="1.5" />
<line x1="195.40" y1="802.50" x2="195.40" y2="866.80" stroke="#000" stroke-width="1.5" />
<rect x="191.40" y="695.70" width="8" height="107.80" rx="1.2" fill="#000"/>
<rect x="192.80" y="735.60" width="5.20" height="5.20" fill="#fff" />
<path d="M347.9,643.3 L347.9,644.3 L347.9,645.3 L348.0,646.3 L348.1,647.3 L348.1,648.3 L348.2,649.3 L348.3,650.3 L348.4,651.3 L348.4,652.3 L348.6,653.3 L348.7,654.3 L348.8,655.3 L349.0,656.3 L349.1,657.3 L349.3,658.3 L349.5,659.3 L349.7,660.3 L349.9,661.3 L350.1,662.3 L350.4,663.3 L350.6,664.3 L350.8,665.3 L351.0,666.3 L351.2,667.3 L351.4,668.3 L351.6,669.3 L351.9,670.3 L352.1,671.3 L352.3,672.3 L352.5,673.3 L352.7,674.3 L352.9,675.3 L353.1,676.3 L353.3,677.3 L353.5,678.3 L353.7,679.3 L354.0,680.3 L354.2,681.3 L354.4,682.3 L354.6,683.3 L354.9,684.3 L355.1,685.3 L355.3,686.3 L355.6,687.3 L355.9,688.3 L356.1,689.3 L356.4,690.3 L356.7,691.3 L357.0,692.3 L357.4,693.3 L357.7,694.3 L358.1,695.3 L358.4,696.3 L358.8,697.3 L359.1,698.3 L359.5,699.3 L359.8,700.3 L360.2,701.3 L360.6,702.3 L360.9,703.3 L361.3,704.3 L361.6,705.3 L362.0,706.3 L362.4,707.3 L362.7,708.3 L363.1,709.3 L363.5,710.3 L363.9,711.3 L364.2,712.3 L364.6,713.3 L365.0,714.3 L365.4,715.3 L365.8,716.3 L366.2,717.3 L366.5,718.3 L366.9,719.3 L367.3,720.3 L367.7,721.3 L368.1,722.3 L368.5,723.3 L368.9,724.3 L369.3,725.3 L369.6,726.3 L370.0,727.3 L370.4,728.3 L370.8,729.3 L371.1,730.3 L371.5,731.3 L371.8,732.3 L372.1,733.3 L372.5,734.3 L372.8,735.3 L373.2,736.3 L373.5,737.3 L373.8,738.3 L374.1,739.3 L374.4,740.3 L374.7,741.3 L375.0,742.3 L375.3,743.3 L375.6,744.3 L375.9,745.3 L376.1,746.3 L376.3,747.3 L376.6,748.3 L376.8,749.3 L377.0,750.3 L377.2,751.3 L377.4,752.3 L377.6,753.3 L377.7,754.3 L377.9,755.3 L378.0,756.3 L378.1,757.3 L378.3,758.3 L378.4,759.3 L378.5,760.3 L378.6,761.3 L378.6,762.3 L378.7,763.3 L378.7,764.3 L378.8,765.3 L378.8,766.3 L378.8,767.3 L378.8,768.3 L378.9,769.3 L378.9,770.3 L378.9,771.3 L378.8,772.3 L378.8,773.3 L378.7,774.3 L378.7,775.3 L378.6,776.3 L378.4,777.3 L378.3,778.3 L378.1,779.3 L377.9,780.3 L377.7,781.3 L377.5,782.3 L377.3,783.3 L377.1,784.3 L376.9,785.3 L376.7,786.3 L376.5,787.3 L376.2,788.3 L376.0,789.3 L375.7,790.3 L375.5,791.3 L375.2,792.3 L374.9,793.3 L374.6,794.3 L374.3,795.3 L374.0,796.3 L373.7,797.3 L373.5,798.3 L373.2,799.3 L372.9,800.3 L372.6,801.3 L372.3,802.3 L372.0,803.3 L371.7,804.3 L371.4,805.3 L371.1,806.3 L370.8,807.3 L370.5,808.3 L370.1,809.3 L369.8,810.3 L369.5,811.3 L369.1,812.3 L368.8,813.3 L368.5,814.3 L368.1,815.3 L367.8,816.3 L367.4,817.3 L367.1,818.3 L366.8,819.3 L366.5,820.3 L366.2,821.3 L365.8,822.3 L365.5,823.3 L365.3,824.3 L365.0,825.3 L364.7,826.3 L364.4,827.3 L364.2,828.3 L363.9,829.3 L363.7,830.3 L363.5,831.3 L363.3,832.3 L363.0,833.3 L362.9,834.3 L362.7,835.3 L362.5,836.3 L362.3,837.3 L362.1,838.3 L362.0,839.3 L361.8,840.3 L361.7,841.3 L361.5,842.3 L361.4,843.3 L361.3,844.3 L361.1,845.3 L361.0,846.3 L360.9,847.3 L360.8,848.3 L360.6,849.3 L360.5,850.3 L360.4,851.3 L360.3,852.3 L360.3,853.3 L360.2,854.3 L360.1,855.3 L360.0,856.3 L359.9,857.3 L359.8,858.3 L359.8,859.3 L359.7,860.3 L359.6,861.3 L359.5,862.3 L359.4,863.3 L359.4,864.3 L359.3,865.3 L359.2,866.3 L359.1,867.3 L359.0,868.3 L358.9,869.3 L358.9,870.3 L358.8,871.3 L358.7,872.3 L358.6,873.3 L358.5,874.3 L358.4,875.3 L358.3,876.3 L358.3,877.3 L358.2,878.3 L358.1,879.3 L358.0,880.3 L357.8,881.3 L357.7,882.3 L357.6,883.3 L357.5,884.3 L357.4,885.3 L357.3,886.3 L357.2,887.3 L357.1,887.9 L338.1,887.9 L338.0,887.3 L337.9,886.3 L337.8,885.3 L337.7,884.3 L337.6,883.3 L337.5,882.3 L337.4,881.3 L337.2,880.3 L337.1,879.3 L337.0,878.3 L336.9,877.3 L336.9,876.3 L336.8,875.3 L336.7,874.3 L336.6,873.3 L336.5,872.3 L336.4,871.3 L336.3,870.3 L336.3,869.3 L336.2,868.3 L336.1,867.3 L336.0,866.3 L335.9,865.3 L335.8,864.3 L335.8,863.3 L335.7,862.3 L335.6,861.3 L335.5,860.3 L335.4,859.3 L335.4,858.3 L335.3,857.3 L335.2,856.3 L335.1,855.3 L335.0,854.3 L334.9,853.3 L334.9,852.3 L334.8,851.3 L334.7,850.3 L334.6,849.3 L334.4,848.3 L334.3,847.3 L334.2,846.3 L334.1,845.3 L333.9,844.3 L333.8,843.3 L333.7,842.3 L333.5,841.3 L333.4,840.3 L333.2,839.3 L333.1,838.3 L332.9,837.3 L332.7,836.3 L332.5,835.3 L332.3,834.3 L332.2,833.3 L331.9,832.3 L331.7,831.3 L331.5,830.3 L331.3,829.3 L331.0,828.3 L330.8,827.3 L330.5,826.3 L330.2,825.3 L329.9,824.3 L329.7,823.3 L329.4,822.3 L329.0,821.3 L328.7,820.3 L328.4,819.3 L328.1,818.3 L327.8,817.3 L327.4,816.3 L327.1,815.3 L326.7,814.3 L326.4,813.3 L326.1,812.3 L325.7,811.3 L325.4,810.3 L325.1,809.3 L324.7,808.3 L324.4,807.3 L324.1,806.3 L323.8,805.3 L323.5,804.3 L323.2,803.3 L322.9,802.3 L322.6,801.3 L322.3,800.3 L322.0,799.3 L321.7,798.3 L321.5,797.3 L321.2,796.3 L320.9,795.3 L320.6,794.3 L320.3,793.3 L320.0,792.3 L319.7,791.3 L319.5,790.3 L319.2,789.3 L319.0,788.3 L318.7,787.3 L318.5,786.3 L318.3,785.3 L318.1,784.3 L317.9,783.3 L317.7,782.3 L317.5,781.3 L317.3,780.3 L317.1,779.3 L316.9,778.3 L316.8,777.3 L316.6,776.3 L316.5,775.3 L316.5,774.3 L316.4,773.3 L316.4,772.3 L316.3,771.3 L316.3,770.3 L316.3,769.3 L316.4,768.3 L316.4,767.3 L316.4,766.3 L316.4,765.3 L316.5,764.3 L316.5,763.3 L316.6,762.3 L316.6,761.3 L316.7,760.3 L316.8,759.3 L316.9,758.3 L317.1,757.3 L317.2,756.3 L317.3,755.3 L317.5,754.3 L317.6,753.3 L317.8,752.3 L318.0,751.3 L318.2,750.3 L318.4,749.3 L318.6,748.3 L318.9,747.3 L319.1,746.3 L319.3,745.3 L319.6,744.3 L319.9,743.3 L320.2,742.3 L320.5,741.3 L320.8,740.3 L321.1,739.3 L321.4,738.3 L321.7,737.3 L322.0,736.3 L322.4,735.3 L322.7,734.3 L323.1,733.3 L323.4,732.3 L323.7,731.3 L324.1,730.3 L324.4,729.3 L324.8,728.3 L325.2,727.3 L325.6,726.3 L325.9,725.3 L326.3,724.3 L326.7,723.3 L327.1,722.3 L327.5,721.3 L327.9,720.3 L328.3,719.3 L328.7,718.3 L329.0,717.3 L329.4,716.3 L329.8,715.3 L330.2,714.3 L330.6,713.3 L331.0,712.3 L331.3,711.3 L331.7,710.3 L332.1,709.3 L332.5,708.3 L332.8,707.3 L333.2,706.3 L333.6,705.3 L333.9,704.3 L334.3,703.3 L334.6,702.3 L335.0,701.3 L335.4,700.3 L335.7,699.3 L336.1,698.3 L336.4,697.3 L336.8,696.3 L337.1,695.3 L337.5,694.3 L337.8,693.3 L338.2,692.3 L338.5,691.3 L338.8,690.3 L339.1,689.3 L339.3,688.3 L339.6,687.3 L339.9,686.3 L340.1,685.3 L340.3,684.3 L340.6,683.3 L340.8,682.3 L341.0,681.3 L341.2,680.3 L341.5,679.3 L341.7,678.3 L341.9,677.3 L342.1,676.3 L342.3,675.3 L342.5,674.3 L342.7,673.3 L342.9,672.3 L343.1,671.3 L343.3,670.3 L343.6,669.3 L343.8,668.3 L344.0,667.3 L344.2,666.3 L344.4,665.3 L344.6,664.3 L344.8,663.3 L345.1,662.3 L345.3,661.3 L345.5,660.3 L345.7,659.3 L345.9,658.3 L346.1,657.3 L346.2,656.3 L346.4,655.3 L346.5,654.3 L346.6,653.3 L346.8,652.3 L346.8,651.3 L346.9,650.3 L347.0,649.3 L347.1,648.3 L347.1,647.3 L347.2,646.3 L347.3,645.3 L347.3,644.3 L347.3,643.3Z" fill="#9ba3be"/>
<line x1="347.60" y1="728.30" x2="347.60" y2="748.10" stroke="#000" stroke-width="1.5" />
<line x1="347.60" y1="790.60" x2="347.60" y2="875.90" stroke="#000" stroke-width="1.5" />
<rect x="343.60" y="747.10" width="8" height="44.50" rx="1.2" fill="#000"/>
<rect x="345.00" y="783.90" width="5.20" height="5.20" fill="#fff" />
<path d="M500.3,590.2 L500.5,591.2 L500.7,592.2 L500.9,593.2 L501.1,594.2 L501.3,595.2 L501.5,596.2 L501.7,597.2 L501.9,598.2 L502.1,599.2 L502.4,600.2 L502.6,601.2 L502.8,602.2 L503.0,603.2 L503.3,604.2 L503.5,605.2 L503.7,606.2 L503.9,607.2 L504.2,608.2 L504.4,609.2 L504.7,610.2 L504.9,611.2 L505.2,612.2 L505.5,613.2 L505.8,614.2 L506.2,615.2 L506.5,616.2 L506.9,617.2 L507.3,618.2 L507.8,619.2 L508.2,620.2 L508.7,621.2 L509.2,622.2 L509.7,623.2 L510.2,624.2 L510.7,625.2 L511.3,626.2 L511.8,627.2 L512.4,628.2 L513.0,629.2 L513.6,630.2 L514.2,631.2 L514.9,632.2 L515.5,633.2 L516.1,634.2 L516.7,635.2 L517.3,636.2 L518.0,637.2 L518.6,638.2 L519.2,639.2 L519.8,640.2 L520.4,641.2 L521.1,642.2 L521.7,643.2 L522.3,644.2 L522.9,645.2 L523.5,646.2 L524.1,647.2 L524.7,648.2 L525.4,649.2 L526.0,650.2 L526.6,651.2 L527.2,652.2 L527.8,653.2 L528.4,654.2 L529.0,655.2 L529.7,656.2 L530.3,657.2 L530.9,658.2 L531.6,659.2 L532.2,660.2 L532.8,661.2 L533.5,662.2 L534.1,663.2 L534.7,664.2 L535.3,665.2 L535.8,666.2 L536.4,667.2 L536.9,668.2 L537.5,669.2 L538.0,670.2 L538.5,671.2 L539.0,672.2 L539.4,673.2 L539.9,674.2 L540.3,675.2 L540.7,676.2 L541.1,677.2 L541.5,678.2 L541.9,679.2 L542.2,680.2 L542.6,681.2 L542.8,682.2 L543.1,683.2 L543.3,684.2 L543.5,685.2 L543.6,686.2 L543.7,687.2 L543.8,688.2 L543.8,689.2 L543.9,690.2 L543.9,691.2 L543.9,692.2 L543.8,693.2 L543.8,694.2 L543.8,695.2 L543.7,696.2 L543.7,697.2 L543.6,698.2 L543.4,699.2 L543.3,700.2 L543.1,701.2 L542.8,702.2 L542.6,703.2 L542.3,704.2 L542.0,705.2 L541.7,706.2 L541.4,707.2 L541.0,708.2 L540.7,709.2 L540.4,710.2 L540.1,711.2 L539.7,712.2 L539.4,713.2 L539.0,714.2 L538.7,715.2 L538.3,716.2 L538.0,717.2 L537.6,718.2 L537.3,719.2 L536.9,720.2 L536.6,721.2 L536.2,722.2 L535.9,723.2 L535.5,724.2 L535.1,725.2 L534.7,726.2 L534.3,727.2 L533.9,728.2 L533.4,729.2 L532.9,730.2 L532.4,731.2 L531.9,732.2 L531.4,733.2 L530.9,734.2 L530.4,735.2 L530.0,736.2 L529.6,737.2 L529.2,738.2 L528.8,739.2 L528.5,740.2 L528.1,741.2 L527.8,742.2 L527.5,743.2 L527.2,744.2 L526.9,745.2 L526.6,746.2 L526.2,747.2 L525.9,748.2 L525.6,749.2 L525.3,750.2 L525.0,751.2 L524.8,752.2 L524.5,753.2 L524.3,754.2 L524.1,755.2 L523.9,756.2 L523.7,757.2 L523.6,758.2 L523.4,759.2 L523.3,760.2 L523.2,761.2 L523.1,762.2 L523.0,763.2 L523.0,764.2 L522.9,765.2 L522.8,766.2 L522.8,767.2 L522.7,768.2 L522.7,769.2 L522.7,770.2 L522.6,771.2 L522.6,772.2 L522.6,773.2 L522.6,774.2 L522.5,775.2 L522.5,776.2 L522.5,777.2 L522.5,778.2 L522.5,779.2 L522.5,780.2 L522.5,781.2 L522.5,782.2 L522.4,783.2 L522.4,784.2 L522.4,785.2 L522.4,786.2 L522.4,787.2 L522.4,788.2 L522.3,789.2 L522.3,790.2 L522.3,791.2 L522.2,792.2 L522.2,793.2 L522.1,794.2 L522.1,795.2 L522.0,796.2 L521.9,797.2 L521.8,798.2 L521.6,799.2 L521.5,800.2 L521.3,801.2 L521.1,802.2 L520.9,803.2 L520.6,804.2 L520.4,805.2 L520.1,806.2 L519.8,807.2 L519.6,808.2 L519.3,809.2 L519.0,810.2 L518.7,811.2 L518.4,812.2 L518.0,813.2 L517.7,814.2 L517.4,815.2 L517.1,816.2 L516.7,817.2 L516.4,818.2 L516.0,819.2 L515.7,820.2 L515.3,821.2 L514.9,822.2 L514.6,823.2 L514.2,824.2 L513.8,825.2 L513.4,826.2 L513.1,827.2 L512.7,828.2 L512.3,829.2 L512.0,830.2 L511.6,831.2 L511.2,832.2 L510.9,833.2 L510.5,834.2 L510.2,835.2 L509.8,836.2 L509.5,837.2 L509.1,838.2 L508.8,839.2 L508.4,840.2 L508.1,841.2 L507.7,842.2 L507.3,843.2 L507.0,844.2 L506.6,845.2 L506.3,846.2 L505.9,847.2 L505.6,848.2 L505.3,849.2 L504.9,850.2 L504.6,851.2 L504.3,852.2 L504.1,853.2 L503.8,854.2 L503.5,855.2 L503.3,856.2 L503.0,857.2 L502.8,858.2 L502.6,859.2 L502.4,860.2 L502.2,861.2 L502.1,862.2 L501.9,863.2 L501.7,864.2 L501.6,865.2 L501.5,866.2 L501.3,867.2 L501.2,868.2 L501.1,869.2 L501.0,870.2 L500.9,871.2 L500.8,872.2 L500.7,873.2 L500.6,874.2 L500.5,875.2 L500.5,876.2 L500.4,877.2 L500.3,878.2 L500.2,879.2 L500.2,880.2 L500.1,881.2 L500.1,881.5 L499.5,881.5 L499.5,881.2 L499.4,880.2 L499.4,879.2 L499.3,878.2 L499.2,877.2 L499.1,876.2 L499.1,875.2 L499.0,874.2 L498.9,873.2 L498.8,872.2 L498.7,871.2 L498.6,870.2 L498.5,869.2 L498.4,868.2 L498.3,867.2 L498.1,866.2 L498.0,865.2 L497.9,864.2 L497.7,863.2 L497.5,862.2 L497.4,861.2 L497.2,860.2 L497.0,859.2 L496.8,858.2 L496.6,857.2 L496.3,856.2 L496.1,855.2 L495.8,854.2 L495.5,853.2 L495.3,852.2 L495.0,851.2 L494.7,850.2 L494.3,849.2 L494.0,848.2 L493.7,847.2 L493.3,846.2 L493.0,845.2 L492.6,844.2 L492.3,843.2 L491.9,842.2 L491.5,841.2 L491.2,840.2 L490.8,839.2 L490.5,838.2 L490.1,837.2 L489.8,836.2 L489.4,835.2 L489.1,834.2 L488.7,833.2 L488.4,832.2 L488.0,831.2 L487.6,830.2 L487.3,829.2 L486.9,828.2 L486.5,827.2 L486.2,826.2 L485.8,825.2 L485.4,824.2 L485.0,823.2 L484.7,822.2 L484.3,821.2 L483.9,820.2 L483.6,819.2 L483.2,818.2 L482.9,817.2 L482.5,816.2 L482.2,815.2 L481.9,814.2 L481.6,813.2 L481.2,812.2 L480.9,811.2 L480.6,810.2 L480.3,809.2 L480.0,808.2 L479.8,807.2 L479.5,806.2 L479.2,805.2 L479.0,804.2 L478.7,803.2 L478.5,802.2 L478.3,801.2 L478.1,800.2 L478.0,799.2 L477.8,798.2 L477.7,797.2 L477.6,796.2 L477.5,795.2 L477.5,794.2 L477.4,793.2 L477.4,792.2 L477.3,791.2 L477.3,790.2 L477.3,789.2 L477.2,788.2 L477.2,787.2 L477.2,786.2 L477.2,785.2 L477.2,784.2 L477.2,783.2 L477.1,782.2 L477.1,781.2 L477.1,780.2 L477.1,779.2 L477.1,778.2 L477.1,777.2 L477.1,776.2 L477.1,775.2 L477.0,774.2 L477.0,773.2 L477.0,772.2 L477.0,771.2 L476.9,770.2 L476.9,769.2 L476.9,768.2 L476.8,767.2 L476.8,766.2 L476.7,765.2 L476.6,764.2 L476.6,763.2 L476.5,762.2 L476.4,761.2 L476.3,760.2 L476.2,759.2 L476.0,758.2 L475.9,757.2 L475.7,756.2 L475.5,755.2 L475.3,754.2 L475.1,753.2 L474.8,752.2 L474.6,751.2 L474.3,750.2 L474.0,749.2 L473.7,748.2 L473.4,747.2 L473.0,746.2 L472.7,745.2 L472.4,744.2 L472.1,743.2 L471.8,742.2 L471.5,741.2 L471.1,740.2 L470.8,739.2 L470.4,738.2 L470.0,737.2 L469.6,736.2 L469.2,735.2 L468.7,734.2 L468.2,733.2 L467.7,732.2 L467.2,731.2 L466.7,730.2 L466.2,729.2 L465.7,728.2 L465.3,727.2 L464.9,726.2 L464.5,725.2 L464.1,724.2 L463.7,723.2 L463.4,722.2 L463.0,721.2 L462.7,720.2 L462.3,719.2 L462.0,718.2 L461.6,717.2 L461.3,716.2 L460.9,715.2 L460.6,714.2 L460.2,713.2 L459.9,712.2 L459.5,711.2 L459.2,710.2 L458.9,709.2 L458.6,708.2 L458.2,707.2 L457.9,706.2 L457.6,705.2 L457.3,704.2 L457.0,703.2 L456.8,702.2 L456.5,701.2 L456.3,700.2 L456.2,699.2 L456.0,698.2 L455.9,697.2 L455.9,696.2 L455.8,695.2 L455.8,694.2 L455.8,693.2 L455.7,692.2 L455.7,691.2 L455.7,690.2 L455.8,689.2 L455.8,688.2 L455.9,687.2 L456.0,686.2 L456.1,685.2 L456.3,684.2 L456.5,683.2 L456.8,682.2 L457.0,681.2 L457.4,680.2 L457.7,679.2 L458.1,678.2 L458.5,677.2 L458.9,676.2 L459.3,675.2 L459.7,674.2 L460.2,673.2 L460.6,672.2 L461.1,671.2 L461.6,670.2 L462.1,669.2 L462.7,668.2 L463.2,667.2 L463.8,666.2 L464.3,665.2 L464.9,664.2 L465.5,663.2 L466.1,662.2 L466.8,661.2 L467.4,660.2 L468.0,659.2 L468.7,658.2 L469.3,657.2 L469.9,656.2 L470.6,655.2 L471.2,654.2 L471.8,653.2 L472.4,652.2 L473.0,651.2 L473.6,650.2 L474.2,649.2 L474.9,648.2 L475.5,647.2 L476.1,646.2 L476.7,645.2 L477.3,644.2 L477.9,643.2 L478.5,642.2 L479.2,641.2 L479.8,640.2 L480.4,639.2 L481.0,638.2 L481.6,637.2 L482.3,636.2 L482.9,635.2 L483.5,634.2 L484.1,633.2 L484.7,632.2 L485.4,631.2 L486.0,630.2 L486.6,629.2 L487.2,628.2 L487.8,627.2 L488.3,626.2 L488.9,625.2 L489.4,624.2 L489.9,623.2 L490.4,622.2 L490.9,621.2 L491.4,620.2 L491.8,619.2 L492.3,618.2 L492.7,617.2 L493.1,616.2 L493.4,615.2 L493.8,614.2 L494.1,613.2 L494.4,612.2 L494.7,611.2 L494.9,610.2 L495.2,609.2 L495.4,608.2 L495.7,607.2 L495.9,606.2 L496.1,605.2 L496.3,604.2 L496.6,603.2 L496.8,602.2 L497.0,601.2 L497.2,600.2 L497.5,599.2 L497.7,598.2 L497.9,597.2 L498.1,596.2 L498.3,595.2 L498.5,594.2 L498.7,593.2 L498.9,592.2 L499.1,591.2 L499.3,590.2Z" fill="#ddd5c4"/>
<line x1="499.80" y1="788.10" x2="499.80" y2="804.90" stroke="#000" stroke-width="1.5" />
<rect x="495.80" y="668.70" width="8" height="120.40" rx="1.2" fill="#000"/>
<rect x="497.20" y="719.60" width="5.20" height="5.20" fill="#fff" />
<line x1="271.5" y1="561" x2="271.5" y2="917.3" stroke="#8a8a8a" stroke-width="1" stroke-dasharray="3 7" stroke-dashoffset="-3"/>
<line x1="423.5" y1="561" x2="423.5" y2="917.3" stroke="#8a8a8a" stroke-width="1" stroke-dasharray="3 7" stroke-dashoffset="-3"/>
<line x1="118.90" y1="559.00" x2="576.50" y2="559.00" stroke="#000" stroke-width="2.2" />
<line x1="118.90" y1="918.30" x2="576.50" y2="918.30" stroke="#000" stroke-width="2.2" />
<line x1="119.50" y1="559.00" x2="119.50" y2="918.30" stroke="#000" stroke-width="1.2" />
<line x1="576.00" y1="559.00" x2="576.00" y2="919.30" stroke="#000" stroke-width="1.6" />
<line x1="111.50" y1="588.70" x2="119.50" y2="588.70" stroke="#000" stroke-width="2" />
<text x="104.50" y="597.20" font-size="29.5" text-anchor="end" fill="#000" >0.9</text>
<line x1="111.50" y1="648.50" x2="119.50" y2="648.50" stroke="#000" stroke-width="2" />
<text x="104.50" y="657.00" font-size="29.5" text-anchor="end" fill="#000" >0.8</text>
<line x1="111.50" y1="708.30" x2="119.50" y2="708.30" stroke="#000" stroke-width="2" />
<text x="104.50" y="716.80" font-size="29.5" text-anchor="end" fill="#000" >0.7</text>
<line x1="111.50" y1="768.10" x2="119.50" y2="768.10" stroke="#000" stroke-width="2" />
<text x="104.50" y="776.60" font-size="29.5" text-anchor="end" fill="#000" >0.6</text>
<line x1="111.50" y1="827.90" x2="119.50" y2="827.90" stroke="#000" stroke-width="2" />
<text x="104.50" y="836.40" font-size="29.5" text-anchor="end" fill="#000" >0.5</text>
<line x1="111.50" y1="887.70" x2="119.50" y2="887.70" stroke="#000" stroke-width="2" />
<text x="104.50" y="896.20" font-size="29.5" text-anchor="end" fill="#000" >0.4</text>
<line x1="195.50" y1="918.30" x2="195.50" y2="926.30" stroke="#000" stroke-width="1.2" />
<line x1="347.50" y1="918.30" x2="347.50" y2="926.30" stroke="#000" stroke-width="1.2" />
<line x1="499.60" y1="918.30" x2="499.60" y2="926.30" stroke="#000" stroke-width="1.2" />
<text x="195.50" y="955.30" font-size="30" text-anchor="middle" fill="#000" >CK</text>
<text x="347.50" y="955.30" font-size="30" text-anchor="middle" fill="#000" >DG</text>
<text x="500.60" y="955.30" font-size="30" text-anchor="middle" fill="#000" >VR</text>
<text x="195.50" y="584.50" font-size="30" text-anchor="middle" fill="#000" >a</text>
<text x="347.50" y="633.50" font-size="30" text-anchor="middle" fill="#000" >a</text>
<text x="499.60" y="584.50" font-size="30" text-anchor="middle" fill="#000" >a</text>
<text x="25.00" y="539.50" font-size="31" text-anchor="start" fill="#000" >(c)</text>
<text transform="translate(51.50,738.50) rotate(-90)" font-size="29.5" text-anchor="middle">Simpson diversity index</text>
<path d="M877.8,590.2 L878.1,591.2 L878.4,592.2 L878.7,593.2 L878.9,594.2 L879.2,595.2 L879.5,596.2 L879.8,597.2 L880.0,598.2 L880.3,599.2 L880.6,600.2 L880.9,601.2 L881.2,602.2 L881.5,603.2 L881.7,604.2 L882.0,605.2 L882.3,606.2 L882.6,607.2 L882.9,608.2 L883.2,609.2 L883.5,610.2 L883.8,611.2 L884.1,612.2 L884.4,613.2 L884.7,614.2 L885.1,615.2 L885.4,616.2 L885.7,617.2 L886.0,618.2 L886.3,619.2 L886.7,620.2 L887.0,621.2 L887.3,622.2 L887.6,623.2 L887.9,624.2 L888.2,625.2 L888.5,626.2 L888.8,627.2 L889.1,628.2 L889.4,629.2 L889.7,630.2 L890.0,631.2 L890.3,632.2 L890.6,633.2 L890.9,634.2 L891.2,635.2 L891.5,636.2 L891.8,637.2 L892.1,638.2 L892.4,639.2 L892.7,640.2 L893.1,641.2 L893.4,642.2 L893.7,643.2 L893.9,644.2 L894.2,645.2 L894.5,646.2 L894.8,647.2 L895.1,648.2 L895.4,649.2 L895.7,650.2 L895.9,651.2 L896.2,652.2 L896.5,653.2 L896.7,654.2 L897.0,655.2 L897.3,656.2 L897.5,657.2 L897.8,658.2 L898.0,659.2 L898.3,660.2 L898.5,661.2 L898.8,662.2 L899.0,663.2 L899.2,664.2 L899.4,665.2 L899.6,666.2 L899.8,667.2 L900.0,668.2 L900.2,669.2 L900.3,670.2 L900.5,671.2 L900.6,672.2 L900.8,673.2 L900.9,674.2 L901.0,675.2 L901.1,676.2 L901.2,677.2 L901.3,678.2 L901.4,679.2 L901.5,680.2 L901.5,681.2 L901.6,682.2 L901.6,683.2 L901.7,684.2 L901.7,685.2 L901.7,686.2 L901.8,687.2 L901.8,688.2 L901.8,689.2 L901.7,690.2 L901.7,691.2 L901.7,692.2 L901.7,693.2 L901.6,694.2 L901.6,695.2 L901.5,696.2 L901.5,697.2 L901.4,698.2 L901.3,699.2 L901.3,700.2 L901.2,701.2 L901.1,702.2 L901.0,703.2 L900.9,704.2 L900.7,705.2 L900.6,706.2 L900.5,707.2 L900.4,708.2 L900.3,709.2 L900.1,710.2 L900.0,711.2 L899.9,712.2 L899.8,713.2 L899.7,714.2 L899.5,715.2 L899.4,716.2 L899.3,717.2 L899.1,718.2 L899.0,719.2 L898.8,720.2 L898.7,721.2 L898.5,722.2 L898.4,723.2 L898.2,724.2 L898.1,725.2 L897.9,726.2 L897.7,727.2 L897.5,728.2 L897.3,729.2 L897.1,730.2 L896.8,731.2 L896.6,732.2 L896.4,733.2 L896.2,734.2 L896.0,735.2 L895.8,736.2 L895.6,737.2 L895.5,738.2 L895.4,739.2 L895.2,740.2 L895.1,741.2 L895.0,742.2 L894.9,743.2 L894.7,744.2 L894.6,745.2 L894.5,746.2 L894.3,747.2 L894.2,748.2 L894.1,749.2 L893.9,750.2 L893.8,751.2 L893.6,752.2 L893.5,753.2 L893.4,754.2 L893.2,755.2 L893.1,756.2 L893.0,757.2 L892.8,758.2 L892.7,759.2 L892.6,760.2 L892.4,761.2 L892.3,762.2 L892.2,763.2 L892.1,764.2 L892.0,765.2 L891.8,766.2 L891.7,767.2 L891.6,768.2 L891.5,769.2 L891.4,770.2 L891.3,771.2 L891.2,772.2 L891.1,773.2 L891.0,774.2 L890.9,775.2 L890.8,776.2 L890.7,777.2 L890.6,778.2 L890.5,779.2 L890.3,780.2 L890.2,781.2 L890.1,782.2 L890.0,783.2 L889.9,784.2 L889.8,785.2 L889.7,786.2 L889.5,787.2 L889.4,788.2 L889.3,789.2 L889.2,790.2 L889.1,791.2 L888.9,792.2 L888.8,793.2 L888.7,794.2 L888.6,795.2 L888.4,796.2 L888.3,797.2 L888.2,798.2 L888.0,799.2 L887.9,800.2 L887.7,801.2 L887.6,802.2 L887.4,803.2 L887.2,804.2 L887.1,805.2 L886.9,806.2 L886.7,807.2 L886.5,808.2 L886.3,809.2 L886.2,810.2 L886.0,811.2 L885.8,812.2 L885.5,813.2 L885.3,814.2 L885.1,815.2 L884.9,816.2 L884.7,817.2 L884.5,818.2 L884.3,819.2 L884.0,820.2 L883.8,821.2 L883.6,822.2 L883.4,823.2 L883.1,824.2 L882.9,825.2 L882.7,826.2 L882.4,827.2 L882.2,828.2 L882.0,829.2 L881.7,830.2 L881.5,831.2 L881.2,832.2 L881.0,833.2 L880.7,834.2 L880.5,835.2 L880.3,836.2 L880.0,837.2 L879.8,838.2 L879.5,839.2 L879.2,840.2 L879.0,841.2 L878.7,842.2 L878.5,843.2 L878.2,844.2 L878.0,845.2 L877.7,846.2 L877.4,847.2 L877.2,848.2 L876.9,849.2 L876.7,850.2 L876.4,851.2 L876.2,852.2 L875.9,853.2 L875.7,854.2 L875.4,855.2 L875.2,856.2 L874.9,857.2 L874.7,858.2 L874.4,859.2 L874.2,860.2 L873.9,861.2 L873.7,862.2 L873.4,863.2 L873.1,864.2 L872.9,865.2 L872.6,866.2 L872.3,867.2 L872.1,868.2 L871.8,869.2 L871.5,870.2 L871.3,871.2 L871.0,872.2 L870.7,873.2 L870.4,874.2 L870.2,875.2 L869.9,876.2 L869.6,877.2 L869.4,878.2 L869.2,879.2 L868.9,880.2 L868.7,881.2 L868.6,882.2 L868.4,883.2 L868.2,884.2 L868.1,885.2 L868.0,886.2 L867.9,887.2 L867.8,887.8 L860.2,887.8 L860.1,887.2 L860.0,886.2 L859.9,885.2 L859.8,884.2 L859.6,883.2 L859.4,882.2 L859.3,881.2 L859.1,880.2 L858.8,879.2 L858.6,878.2 L858.4,877.2 L858.1,876.2 L857.8,875.2 L857.6,874.2 L857.3,873.2 L857.0,872.2 L856.7,871.2 L856.5,870.2 L856.2,869.2 L855.9,868.2 L855.7,867.2 L855.4,866.2 L855.1,865.2 L854.9,864.2 L854.6,863.2 L854.3,862.2 L854.1,861.2 L853.8,860.2 L853.6,859.2 L853.3,858.2 L853.1,857.2 L852.8,856.2 L852.6,855.2 L852.3,854.2 L852.1,853.2 L851.8,852.2 L851.6,851.2 L851.3,850.2 L851.1,849.2 L850.8,848.2 L850.6,847.2 L850.3,846.2 L850.0,845.2 L849.8,844.2 L849.5,843.2 L849.3,842.2 L849.0,841.2 L848.8,840.2 L848.5,839.2 L848.2,838.2 L848.0,837.2 L847.7,836.2 L847.5,835.2 L847.3,834.2 L847.0,833.2 L846.8,832.2 L846.5,831.2 L846.3,830.2 L846.0,829.2 L845.8,828.2 L845.6,827.2 L845.3,826.2 L845.1,825.2 L844.9,824.2 L844.6,823.2 L844.4,822.2 L844.2,821.2 L844.0,820.2 L843.7,819.2 L843.5,818.2 L843.3,817.2 L843.1,816.2 L842.9,815.2 L842.7,814.2 L842.5,813.2 L842.2,812.2 L842.0,811.2 L841.8,810.2 L841.7,809.2 L841.5,808.2 L841.3,807.2 L841.1,806.2 L840.9,805.2 L840.8,804.2 L840.6,803.2 L840.4,802.2 L840.3,801.2 L840.1,800.2 L840.0,799.2 L839.8,798.2 L839.7,797.2 L839.6,796.2 L839.4,795.2 L839.3,794.2 L839.2,793.2 L839.1,792.2 L838.9,791.2 L838.8,790.2 L838.7,789.2 L838.6,788.2 L838.5,787.2 L838.3,786.2 L838.2,785.2 L838.1,784.2 L838.0,783.2 L837.9,782.2 L837.8,781.2 L837.7,780.2 L837.5,779.2 L837.4,778.2 L837.3,777.2 L837.2,776.2 L837.1,775.2 L837.0,774.2 L836.9,773.2 L836.8,772.2 L836.7,771.2 L836.6,770.2 L836.5,769.2 L836.4,768.2 L836.3,767.2 L836.2,766.2 L836.0,765.2 L835.9,764.2 L835.8,763.2 L835.7,762.2 L835.6,761.2 L835.4,760.2 L835.3,759.2 L835.2,758.2 L835.0,757.2 L834.9,756.2 L834.8,755.2 L834.6,754.2 L834.5,753.2 L834.4,752.2 L834.2,751.2 L834.1,750.2 L833.9,749.2 L833.8,748.2 L833.7,747.2 L833.5,746.2 L833.4,745.2 L833.3,744.2 L833.1,743.2 L833.0,742.2 L832.9,741.2 L832.8,740.2 L832.6,739.2 L832.5,738.2 L832.4,737.2 L832.2,736.2 L832.0,735.2 L831.8,734.2 L831.6,733.2 L831.4,732.2 L831.2,731.2 L830.9,730.2 L830.7,729.2 L830.5,728.2 L830.3,727.2 L830.1,726.2 L829.9,725.2 L829.8,724.2 L829.6,723.2 L829.5,722.2 L829.3,721.2 L829.2,720.2 L829.0,719.2 L828.9,718.2 L828.7,717.2 L828.6,716.2 L828.5,715.2 L828.3,714.2 L828.2,713.2 L828.1,712.2 L828.0,711.2 L827.9,710.2 L827.7,709.2 L827.6,708.2 L827.5,707.2 L827.4,706.2 L827.3,705.2 L827.1,704.2 L827.0,703.2 L826.9,702.2 L826.8,701.2 L826.7,700.2 L826.7,699.2 L826.6,698.2 L826.5,697.2 L826.5,696.2 L826.4,695.2 L826.4,694.2 L826.3,693.2 L826.3,692.2 L826.3,691.2 L826.3,690.2 L826.2,689.2 L826.2,688.2 L826.2,687.2 L826.3,686.2 L826.3,685.2 L826.3,684.2 L826.4,683.2 L826.4,682.2 L826.5,681.2 L826.5,680.2 L826.6,679.2 L826.7,678.2 L826.8,677.2 L826.9,676.2 L827.0,675.2 L827.1,674.2 L827.2,673.2 L827.4,672.2 L827.5,671.2 L827.7,670.2 L827.8,669.2 L828.0,668.2 L828.2,667.2 L828.4,666.2 L828.6,665.2 L828.8,664.2 L829.0,663.2 L829.2,662.2 L829.5,661.2 L829.7,660.2 L830.0,659.2 L830.2,658.2 L830.5,657.2 L830.7,656.2 L831.0,655.2 L831.3,654.2 L831.5,653.2 L831.8,652.2 L832.1,651.2 L832.3,650.2 L832.6,649.2 L832.9,648.2 L833.2,647.2 L833.5,646.2 L833.8,645.2 L834.1,644.2 L834.3,643.2 L834.6,642.2 L834.9,641.2 L835.3,640.2 L835.6,639.2 L835.9,638.2 L836.2,637.2 L836.5,636.2 L836.8,635.2 L837.1,634.2 L837.4,633.2 L837.7,632.2 L838.0,631.2 L838.3,630.2 L838.6,629.2 L838.9,628.2 L839.2,627.2 L839.5,626.2 L839.8,625.2 L840.1,624.2 L840.4,623.2 L840.7,622.2 L841.0,621.2 L841.3,620.2 L841.7,619.2 L842.0,618.2 L842.3,617.2 L842.6,616.2 L842.9,615.2 L843.3,614.2 L843.6,613.2 L843.9,612.2 L844.2,611.2 L844.5,610.2 L844.8,609.2 L845.1,608.2 L845.4,607.2 L845.7,606.2 L846.0,605.2 L846.3,604.2 L846.5,603.2 L846.8,602.2 L847.1,601.2 L847.4,600.2 L847.7,599.2 L848.0,598.2 L848.2,597.2 L848.5,596.2 L848.8,595.2 L849.1,594.2 L849.3,593.2 L849.6,592.2 L849.9,591.2 L850.2,590.2Z" fill="#505a7b"/>
<line x1="864.00" y1="614.00" x2="864.00" y2="673.90" stroke="#000" stroke-width="2.2" />
<line x1="864.00" y1="779.70" x2="864.00" y2="818.50" stroke="#000" stroke-width="2.2" />
<rect x="860.00" y="672.90" width="8" height="107.80" rx="1.2" fill="#000"/>
<rect x="861.40" y="712.00" width="5.20" height="5.20" fill="#fff" />
<path d="M1016.2,613.9 L1016.3,614.9 L1016.4,615.9 L1016.4,616.9 L1016.5,617.9 L1016.6,618.9 L1016.8,619.9 L1016.9,620.9 L1017.0,621.9 L1017.1,622.9 L1017.2,623.9 L1017.4,624.9 L1017.5,625.9 L1017.7,626.9 L1017.9,627.9 L1018.0,628.9 L1018.2,629.9 L1018.4,630.9 L1018.6,631.9 L1018.8,632.9 L1019.0,633.9 L1019.3,634.9 L1019.5,635.9 L1019.7,636.9 L1019.9,637.9 L1020.1,638.9 L1020.4,639.9 L1020.6,640.9 L1020.8,641.9 L1021.0,642.9 L1021.3,643.9 L1021.5,644.9 L1021.7,645.9 L1022.0,646.9 L1022.2,647.9 L1022.5,648.9 L1022.7,649.9 L1023.0,650.9 L1023.3,651.9 L1023.5,652.9 L1023.8,653.9 L1024.1,654.9 L1024.4,655.9 L1024.7,656.9 L1024.9,657.9 L1025.2,658.9 L1025.6,659.9 L1025.9,660.9 L1026.2,661.9 L1026.5,662.9 L1026.8,663.9 L1027.2,664.9 L1027.5,665.9 L1027.8,666.9 L1028.2,667.9 L1028.5,668.9 L1028.9,669.9 L1029.2,670.9 L1029.6,671.9 L1030.0,672.9 L1030.3,673.9 L1030.7,674.9 L1031.0,675.9 L1031.4,676.9 L1031.8,677.9 L1032.2,678.9 L1032.5,679.9 L1032.9,680.9 L1033.3,681.9 L1033.6,682.9 L1034.0,683.9 L1034.4,684.9 L1034.8,685.9 L1035.1,686.9 L1035.5,687.9 L1035.8,688.9 L1036.2,689.9 L1036.5,690.9 L1036.9,691.9 L1037.2,692.9 L1037.6,693.9 L1037.9,694.9 L1038.2,695.9 L1038.6,696.9 L1038.9,697.9 L1039.2,698.9 L1039.6,699.9 L1039.9,700.9 L1040.2,701.9 L1040.6,702.9 L1040.9,703.9 L1041.2,704.9 L1041.5,705.9 L1041.9,706.9 L1042.2,707.9 L1042.4,708.9 L1042.7,709.9 L1043.0,710.9 L1043.2,711.9 L1043.4,712.9 L1043.6,713.9 L1043.8,714.9 L1044.0,715.9 L1044.2,716.9 L1044.4,717.9 L1044.5,718.9 L1044.7,719.9 L1044.8,720.9 L1044.9,721.9 L1045.1,722.9 L1045.2,723.9 L1045.3,724.9 L1045.4,725.9 L1045.5,726.9 L1045.5,727.9 L1045.6,728.9 L1045.7,729.9 L1045.8,730.9 L1045.9,731.9 L1045.9,732.9 L1046.0,733.9 L1046.0,734.9 L1046.1,735.9 L1046.2,736.9 L1046.2,737.9 L1046.3,738.9 L1046.3,739.9 L1046.4,740.9 L1046.4,741.9 L1046.4,742.9 L1046.5,743.9 L1046.5,744.9 L1046.5,745.9 L1046.6,746.9 L1046.6,747.9 L1046.6,748.9 L1046.6,749.9 L1046.7,750.9 L1046.7,751.9 L1046.7,752.9 L1046.7,753.9 L1046.7,754.9 L1046.7,755.9 L1046.8,756.9 L1046.8,757.9 L1046.8,758.9 L1046.8,759.9 L1046.9,760.9 L1046.9,761.9 L1046.9,762.9 L1047.0,763.9 L1047.0,764.9 L1047.1,765.9 L1047.1,766.9 L1047.1,767.9 L1047.2,768.9 L1047.2,769.9 L1047.3,770.9 L1047.3,771.9 L1047.4,772.9 L1047.4,773.9 L1047.4,774.9 L1047.4,775.9 L1047.5,776.9 L1047.5,777.9 L1047.5,778.9 L1047.5,779.9 L1047.5,780.9 L1047.5,781.9 L1047.5,782.9 L1047.5,783.9 L1047.5,784.9 L1047.5,785.9 L1047.5,786.9 L1047.4,787.9 L1047.4,788.9 L1047.4,789.9 L1047.3,790.9 L1047.3,791.9 L1047.2,792.9 L1047.2,793.9 L1047.1,794.9 L1047.1,795.9 L1047.0,796.9 L1047.0,797.9 L1046.9,798.9 L1046.9,799.9 L1046.8,800.9 L1046.7,801.9 L1046.7,802.9 L1046.6,803.9 L1046.5,804.9 L1046.4,805.9 L1046.4,806.9 L1046.3,807.9 L1046.2,808.9 L1046.1,809.9 L1045.9,810.9 L1045.8,811.9 L1045.7,812.9 L1045.6,813.9 L1045.4,814.9 L1045.3,815.9 L1045.1,816.9 L1044.9,817.9 L1044.8,818.9 L1044.6,819.9 L1044.4,820.9 L1044.2,821.9 L1044.0,822.9 L1043.8,823.9 L1043.6,824.9 L1043.4,825.9 L1043.2,826.9 L1043.0,827.9 L1042.7,828.9 L1042.5,829.9 L1042.3,830.9 L1042.1,831.9 L1041.9,832.9 L1041.6,833.9 L1041.4,834.9 L1041.2,835.9 L1041.0,836.9 L1040.7,837.9 L1040.5,838.9 L1040.3,839.9 L1040.0,840.9 L1039.8,841.9 L1039.5,842.9 L1039.3,843.9 L1039.0,844.9 L1038.7,845.9 L1038.5,846.9 L1038.2,847.9 L1037.9,848.9 L1037.7,849.9 L1037.4,850.9 L1037.1,851.9 L1036.8,852.9 L1036.5,853.9 L1036.2,854.9 L1036.0,855.9 L1035.7,856.9 L1035.4,857.9 L1035.1,858.9 L1034.9,859.9 L1034.6,860.9 L1034.4,861.9 L1034.1,862.9 L1033.8,863.9 L1033.6,864.9 L1033.3,865.9 L1033.1,866.9 L1032.8,867.9 L1032.6,868.9 L1032.3,869.9 L1032.1,870.9 L1031.8,871.9 L1031.6,872.9 L1031.3,873.9 L1031.1,874.9 L1030.8,875.9 L1030.5,876.9 L1030.3,877.9 L1030.0,878.9 L1029.7,879.9 L1029.5,880.9 L1029.2,881.9 L1028.9,882.9 L1028.7,883.9 L1028.5,884.9 L1028.2,885.9 L1028.0,886.9 L1027.8,887.7 L1004.0,887.7 L1003.8,886.9 L1003.6,885.9 L1003.3,884.9 L1003.1,883.9 L1002.9,882.9 L1002.6,881.9 L1002.3,880.9 L1002.1,879.9 L1001.8,878.9 L1001.5,877.9 L1001.3,876.9 L1001.0,875.9 L1000.7,874.9 L1000.5,873.9 L1000.2,872.9 L1000.0,871.9 L999.7,870.9 L999.5,869.9 L999.2,868.9 L999.0,867.9 L998.7,866.9 L998.5,865.9 L998.2,864.9 L998.0,863.9 L997.7,862.9 L997.4,861.9 L997.2,860.9 L996.9,859.9 L996.7,858.9 L996.4,857.9 L996.1,856.9 L995.8,855.9 L995.6,854.9 L995.3,853.9 L995.0,852.9 L994.7,851.9 L994.4,850.9 L994.1,849.9 L993.9,848.9 L993.6,847.9 L993.3,846.9 L993.1,845.9 L992.8,844.9 L992.5,843.9 L992.3,842.9 L992.0,841.9 L991.8,840.9 L991.5,839.9 L991.3,838.9 L991.1,837.9 L990.8,836.9 L990.6,835.9 L990.4,834.9 L990.2,833.9 L989.9,832.9 L989.7,831.9 L989.5,830.9 L989.3,829.9 L989.1,828.9 L988.8,827.9 L988.6,826.9 L988.4,825.9 L988.2,824.9 L988.0,823.9 L987.8,822.9 L987.6,821.9 L987.4,820.9 L987.2,819.9 L987.0,818.9 L986.9,817.9 L986.7,816.9 L986.5,815.9 L986.4,814.9 L986.2,813.9 L986.1,812.9 L986.0,811.9 L985.9,810.9 L985.7,809.9 L985.6,808.9 L985.5,807.9 L985.4,806.9 L985.4,805.9 L985.3,804.9 L985.2,803.9 L985.1,802.9 L985.1,801.9 L985.0,800.9 L984.9,799.9 L984.9,798.9 L984.8,797.9 L984.8,796.9 L984.7,795.9 L984.7,794.9 L984.6,793.9 L984.6,792.9 L984.5,791.9 L984.5,790.9 L984.4,789.9 L984.4,788.9 L984.4,787.9 L984.3,786.9 L984.3,785.9 L984.3,784.9 L984.3,783.9 L984.3,782.9 L984.3,781.9 L984.3,780.9 L984.3,779.9 L984.3,778.9 L984.3,777.9 L984.3,776.9 L984.4,775.9 L984.4,774.9 L984.4,773.9 L984.4,772.9 L984.5,771.9 L984.5,770.9 L984.6,769.9 L984.6,768.9 L984.7,767.9 L984.7,766.9 L984.7,765.9 L984.8,764.9 L984.8,763.9 L984.9,762.9 L984.9,761.9 L984.9,760.9 L985.0,759.9 L985.0,758.9 L985.0,757.9 L985.0,756.9 L985.1,755.9 L985.1,754.9 L985.1,753.9 L985.1,752.9 L985.1,751.9 L985.1,750.9 L985.2,749.9 L985.2,748.9 L985.2,747.9 L985.2,746.9 L985.3,745.9 L985.3,744.9 L985.3,743.9 L985.4,742.9 L985.4,741.9 L985.4,740.9 L985.5,739.9 L985.5,738.9 L985.6,737.9 L985.6,736.9 L985.7,735.9 L985.8,734.9 L985.8,733.9 L985.9,732.9 L985.9,731.9 L986.0,730.9 L986.1,729.9 L986.2,728.9 L986.3,727.9 L986.3,726.9 L986.4,725.9 L986.5,724.9 L986.6,723.9 L986.7,722.9 L986.9,721.9 L987.0,720.9 L987.1,719.9 L987.3,718.9 L987.4,717.9 L987.6,716.9 L987.8,715.9 L988.0,714.9 L988.2,713.9 L988.4,712.9 L988.6,711.9 L988.8,710.9 L989.1,709.9 L989.4,708.9 L989.6,707.9 L989.9,706.9 L990.3,705.9 L990.6,704.9 L990.9,703.9 L991.2,702.9 L991.6,701.9 L991.9,700.9 L992.2,699.9 L992.6,698.9 L992.9,697.9 L993.2,696.9 L993.6,695.9 L993.9,694.9 L994.2,693.9 L994.6,692.9 L994.9,691.9 L995.3,690.9 L995.6,689.9 L996.0,688.9 L996.3,687.9 L996.7,686.9 L997.0,685.9 L997.4,684.9 L997.8,683.9 L998.2,682.9 L998.5,681.9 L998.9,680.9 L999.3,679.9 L999.6,678.9 L1000.0,677.9 L1000.4,676.9 L1000.8,675.9 L1001.1,674.9 L1001.5,673.9 L1001.8,672.9 L1002.2,671.9 L1002.6,670.9 L1002.9,669.9 L1003.3,668.9 L1003.6,667.9 L1004.0,666.9 L1004.3,665.9 L1004.6,664.9 L1005.0,663.9 L1005.3,662.9 L1005.6,661.9 L1005.9,660.9 L1006.2,659.9 L1006.6,658.9 L1006.9,657.9 L1007.1,656.9 L1007.4,655.9 L1007.7,654.9 L1008.0,653.9 L1008.3,652.9 L1008.5,651.9 L1008.8,650.9 L1009.1,649.9 L1009.3,648.9 L1009.6,647.9 L1009.8,646.9 L1010.1,645.9 L1010.3,644.9 L1010.5,643.9 L1010.8,642.9 L1011.0,641.9 L1011.2,640.9 L1011.4,639.9 L1011.7,638.9 L1011.9,637.9 L1012.1,636.9 L1012.3,635.9 L1012.5,634.9 L1012.8,633.9 L1013.0,632.9 L1013.2,631.9 L1013.4,630.9 L1013.6,629.9 L1013.8,628.9 L1013.9,627.9 L1014.1,626.9 L1014.3,625.9 L1014.4,624.9 L1014.6,623.9 L1014.7,622.9 L1014.8,621.9 L1014.9,620.9 L1015.0,619.9 L1015.2,618.9 L1015.3,617.9 L1015.4,616.9 L1015.4,615.9 L1015.5,614.9 L1015.6,613.9Z" fill="#9ba3be"/>
<line x1="1015.90" y1="797.80" x2="1015.90" y2="863.70" stroke="#000" stroke-width="2.2" />
<rect x="1011.90" y="713.70" width="8" height="85.10" rx="1.2" fill="#000"/>
<rect x="1013.30" y="774.70" width="5.20" height="5.20" fill="#fff" />
<path d="M1179.6,590.2 L1180.2,591.2 L1180.7,592.2 L1181.2,593.2 L1181.7,594.2 L1182.1,595.2 L1182.6,596.2 L1183.1,597.2 L1183.6,598.2 L1184.2,599.2 L1184.7,600.2 L1185.2,601.2 L1185.7,602.2 L1186.2,603.2 L1186.7,604.2 L1187.3,605.2 L1187.8,606.2 L1188.3,607.2 L1188.8,608.2 L1189.4,609.2 L1189.9,610.2 L1190.4,611.2 L1190.9,612.2 L1191.4,613.2 L1191.9,614.2 L1192.4,615.2 L1192.9,616.2 L1193.4,617.2 L1193.9,618.2 L1194.4,619.2 L1194.9,620.2 L1195.4,621.2 L1195.9,622.2 L1196.4,623.2 L1196.9,624.2 L1197.4,625.2 L1197.9,626.2 L1198.4,627.2 L1198.8,628.2 L1199.3,629.2 L1199.8,630.2 L1200.3,631.2 L1200.8,632.2 L1201.3,633.2 L1201.8,634.2 L1202.3,635.2 L1202.8,636.2 L1203.3,637.2 L1203.7,638.2 L1204.2,639.2 L1204.7,640.2 L1205.2,641.2 L1205.6,642.2 L1206.1,643.2 L1206.5,644.2 L1206.9,645.2 L1207.2,646.2 L1207.6,647.2 L1207.9,648.2 L1208.2,649.2 L1208.6,650.2 L1208.8,651.2 L1209.1,652.2 L1209.4,653.2 L1209.7,654.2 L1209.9,655.2 L1210.2,656.2 L1210.4,657.2 L1210.6,658.2 L1210.9,659.2 L1211.1,660.2 L1211.3,661.2 L1211.5,662.2 L1211.6,663.2 L1211.7,664.2 L1211.8,665.2 L1211.9,666.2 L1212.0,667.2 L1212.0,668.2 L1212.0,669.2 L1212.0,670.2 L1212.1,671.2 L1212.1,672.2 L1212.1,673.2 L1212.1,674.2 L1212.0,675.2 L1212.0,676.2 L1211.9,677.2 L1211.8,678.2 L1211.7,679.2 L1211.6,680.2 L1211.4,681.2 L1211.2,682.2 L1210.9,683.2 L1210.7,684.2 L1210.5,685.2 L1210.2,686.2 L1209.9,687.2 L1209.6,688.2 L1209.3,689.2 L1209.0,690.2 L1208.7,691.2 L1208.4,692.2 L1208.1,693.2 L1207.7,694.2 L1207.4,695.2 L1207.0,696.2 L1206.7,697.2 L1206.3,698.2 L1206.0,699.2 L1205.6,700.2 L1205.2,701.2 L1204.9,702.2 L1204.5,703.2 L1204.1,704.2 L1203.7,705.2 L1203.3,706.2 L1202.9,707.2 L1202.5,708.2 L1202.1,709.2 L1201.7,710.2 L1201.3,711.2 L1200.8,712.2 L1200.4,713.2 L1200.0,714.2 L1199.6,715.2 L1199.2,716.2 L1198.8,717.2 L1198.4,718.2 L1198.0,719.2 L1197.6,720.2 L1197.3,721.2 L1196.9,722.2 L1196.6,723.2 L1196.2,724.2 L1195.8,725.2 L1195.4,726.2 L1195.0,727.2 L1194.5,728.2 L1194.0,729.2 L1193.5,730.2 L1192.9,731.2 L1192.3,732.2 L1191.8,733.2 L1191.3,734.2 L1190.8,735.2 L1190.4,736.2 L1190.1,737.2 L1189.8,738.2 L1189.6,739.2 L1189.3,740.2 L1189.1,741.2 L1189.0,742.2 L1188.8,743.2 L1188.6,744.2 L1188.4,745.2 L1188.3,746.2 L1188.1,747.2 L1187.9,748.2 L1187.8,749.2 L1187.6,750.2 L1187.5,751.2 L1187.4,752.2 L1187.2,753.2 L1187.1,754.2 L1187.0,755.2 L1186.9,756.2 L1186.9,757.2 L1186.8,758.2 L1186.7,759.2 L1186.7,760.2 L1186.7,761.2 L1186.6,762.2 L1186.6,763.2 L1186.6,764.2 L1186.5,765.2 L1186.5,766.2 L1186.5,767.2 L1186.6,768.2 L1186.6,769.2 L1186.6,770.2 L1186.6,771.2 L1186.7,772.2 L1186.7,773.2 L1186.8,774.2 L1186.8,775.2 L1186.9,776.2 L1186.9,777.2 L1187.0,778.2 L1187.0,779.2 L1187.1,780.2 L1187.1,781.2 L1187.2,782.2 L1187.2,783.2 L1187.3,784.2 L1187.3,785.2 L1187.3,786.2 L1187.4,787.2 L1187.4,788.2 L1187.4,789.2 L1187.5,790.2 L1187.5,791.2 L1187.5,792.2 L1187.5,793.2 L1187.5,794.2 L1187.6,795.2 L1187.6,796.2 L1187.6,797.2 L1187.6,798.2 L1187.6,799.2 L1187.6,800.2 L1187.6,801.2 L1187.6,802.2 L1187.6,803.2 L1187.6,804.2 L1187.5,805.2 L1187.5,806.2 L1187.5,807.2 L1187.5,808.2 L1187.4,809.2 L1187.4,810.2 L1187.3,811.2 L1187.2,812.2 L1187.1,813.2 L1187.0,814.2 L1186.9,815.2 L1186.8,816.2 L1186.6,817.2 L1186.5,818.2 L1186.3,819.2 L1186.2,820.2 L1186.0,821.2 L1185.8,822.2 L1185.7,823.2 L1185.5,824.2 L1185.3,825.2 L1185.1,826.2 L1184.9,827.2 L1184.7,828.2 L1184.5,829.2 L1184.3,830.2 L1184.1,831.2 L1183.9,832.2 L1183.7,833.2 L1183.5,834.2 L1183.3,835.2 L1183.1,836.2 L1182.9,837.2 L1182.7,838.2 L1182.5,839.2 L1182.3,840.2 L1182.0,841.2 L1181.8,842.2 L1181.6,843.2 L1181.4,844.2 L1181.2,845.2 L1181.0,846.2 L1180.7,847.2 L1180.5,848.2 L1180.3,849.2 L1180.0,850.2 L1179.8,851.2 L1179.5,852.2 L1179.2,853.2 L1178.9,854.2 L1178.6,855.2 L1178.3,856.2 L1178.0,857.2 L1177.7,858.2 L1177.4,859.2 L1177.2,860.2 L1176.9,861.2 L1176.6,862.2 L1176.4,863.2 L1176.1,864.2 L1175.8,865.2 L1175.6,866.2 L1175.3,867.2 L1175.1,868.2 L1174.9,869.2 L1174.6,870.2 L1174.4,871.2 L1174.1,872.2 L1173.8,873.2 L1173.6,874.2 L1173.3,875.2 L1173.1,876.2 L1172.8,877.2 L1172.6,878.2 L1172.3,879.2 L1172.1,880.2 L1171.9,881.2 L1171.8,882.2 L1171.6,883.2 L1171.4,884.2 L1171.3,885.2 L1171.2,886.2 L1171.0,887.2 L1171.0,887.5 L1165.0,887.5 L1165.0,887.2 L1164.8,886.2 L1164.7,885.2 L1164.6,884.2 L1164.4,883.2 L1164.2,882.2 L1164.1,881.2 L1163.9,880.2 L1163.7,879.2 L1163.4,878.2 L1163.2,877.2 L1162.9,876.2 L1162.7,875.2 L1162.4,874.2 L1162.2,873.2 L1161.9,872.2 L1161.6,871.2 L1161.4,870.2 L1161.1,869.2 L1160.9,868.2 L1160.7,867.2 L1160.4,866.2 L1160.2,865.2 L1159.9,864.2 L1159.6,863.2 L1159.4,862.2 L1159.1,861.2 L1158.8,860.2 L1158.6,859.2 L1158.3,858.2 L1158.0,857.2 L1157.7,856.2 L1157.4,855.2 L1157.1,854.2 L1156.8,853.2 L1156.5,852.2 L1156.2,851.2 L1156.0,850.2 L1155.7,849.2 L1155.5,848.2 L1155.3,847.2 L1155.0,846.2 L1154.8,845.2 L1154.6,844.2 L1154.4,843.2 L1154.2,842.2 L1154.0,841.2 L1153.7,840.2 L1153.5,839.2 L1153.3,838.2 L1153.1,837.2 L1152.9,836.2 L1152.7,835.2 L1152.5,834.2 L1152.3,833.2 L1152.1,832.2 L1151.9,831.2 L1151.7,830.2 L1151.5,829.2 L1151.3,828.2 L1151.1,827.2 L1150.9,826.2 L1150.7,825.2 L1150.5,824.2 L1150.3,823.2 L1150.2,822.2 L1150.0,821.2 L1149.8,820.2 L1149.7,819.2 L1149.5,818.2 L1149.4,817.2 L1149.2,816.2 L1149.1,815.2 L1149.0,814.2 L1148.9,813.2 L1148.8,812.2 L1148.7,811.2 L1148.6,810.2 L1148.6,809.2 L1148.5,808.2 L1148.5,807.2 L1148.5,806.2 L1148.5,805.2 L1148.4,804.2 L1148.4,803.2 L1148.4,802.2 L1148.4,801.2 L1148.4,800.2 L1148.4,799.2 L1148.4,798.2 L1148.4,797.2 L1148.4,796.2 L1148.4,795.2 L1148.5,794.2 L1148.5,793.2 L1148.5,792.2 L1148.5,791.2 L1148.5,790.2 L1148.6,789.2 L1148.6,788.2 L1148.6,787.2 L1148.7,786.2 L1148.7,785.2 L1148.7,784.2 L1148.8,783.2 L1148.8,782.2 L1148.9,781.2 L1148.9,780.2 L1149.0,779.2 L1149.0,778.2 L1149.1,777.2 L1149.1,776.2 L1149.2,775.2 L1149.2,774.2 L1149.3,773.2 L1149.3,772.2 L1149.4,771.2 L1149.4,770.2 L1149.4,769.2 L1149.4,768.2 L1149.5,767.2 L1149.5,766.2 L1149.5,765.2 L1149.4,764.2 L1149.4,763.2 L1149.4,762.2 L1149.3,761.2 L1149.3,760.2 L1149.3,759.2 L1149.2,758.2 L1149.1,757.2 L1149.1,756.2 L1149.0,755.2 L1148.9,754.2 L1148.8,753.2 L1148.6,752.2 L1148.5,751.2 L1148.4,750.2 L1148.2,749.2 L1148.1,748.2 L1147.9,747.2 L1147.7,746.2 L1147.6,745.2 L1147.4,744.2 L1147.2,743.2 L1147.0,742.2 L1146.9,741.2 L1146.7,740.2 L1146.4,739.2 L1146.2,738.2 L1145.9,737.2 L1145.6,736.2 L1145.2,735.2 L1144.7,734.2 L1144.2,733.2 L1143.7,732.2 L1143.1,731.2 L1142.5,730.2 L1142.0,729.2 L1141.5,728.2 L1141.0,727.2 L1140.6,726.2 L1140.2,725.2 L1139.8,724.2 L1139.4,723.2 L1139.1,722.2 L1138.7,721.2 L1138.4,720.2 L1138.0,719.2 L1137.6,718.2 L1137.2,717.2 L1136.8,716.2 L1136.4,715.2 L1136.0,714.2 L1135.6,713.2 L1135.2,712.2 L1134.7,711.2 L1134.3,710.2 L1133.9,709.2 L1133.5,708.2 L1133.1,707.2 L1132.7,706.2 L1132.3,705.2 L1131.9,704.2 L1131.5,703.2 L1131.1,702.2 L1130.8,701.2 L1130.4,700.2 L1130.0,699.2 L1129.7,698.2 L1129.3,697.2 L1129.0,696.2 L1128.6,695.2 L1128.3,694.2 L1127.9,693.2 L1127.6,692.2 L1127.3,691.2 L1127.0,690.2 L1126.7,689.2 L1126.4,688.2 L1126.1,687.2 L1125.8,686.2 L1125.5,685.2 L1125.3,684.2 L1125.1,683.2 L1124.8,682.2 L1124.6,681.2 L1124.4,680.2 L1124.3,679.2 L1124.2,678.2 L1124.1,677.2 L1124.0,676.2 L1124.0,675.2 L1123.9,674.2 L1123.9,673.2 L1123.9,672.2 L1123.9,671.2 L1124.0,670.2 L1124.0,669.2 L1124.0,668.2 L1124.0,667.2 L1124.1,666.2 L1124.2,665.2 L1124.3,664.2 L1124.4,663.2 L1124.5,662.2 L1124.7,661.2 L1124.9,660.2 L1125.1,659.2 L1125.4,658.2 L1125.6,657.2 L1125.8,656.2 L1126.1,655.2 L1126.3,654.2 L1126.6,653.2 L1126.9,652.2 L1127.2,651.2 L1127.4,650.2 L1127.8,649.2 L1128.1,648.2 L1128.4,647.2 L1128.8,646.2 L1129.1,645.2 L1129.5,644.2 L1129.9,643.2 L1130.4,642.2 L1130.8,641.2 L1131.3,640.2 L1131.8,639.2 L1132.3,638.2 L1132.7,637.2 L1133.2,636.2 L1133.7,635.2 L1134.2,634.2 L1134.7,633.2 L1135.2,632.2 L1135.7,631.2 L1136.2,630.2 L1136.7,629.2 L1137.2,628.2 L1137.6,627.2 L1138.1,626.2 L1138.6,625.2 L1139.1,624.2 L1139.6,623.2 L1140.1,622.2 L1140.6,621.2 L1141.1,620.2 L1141.6,619.2 L1142.1,618.2 L1142.6,617.2 L1143.1,616.2 L1143.6,615.2 L1144.1,614.2 L1144.6,613.2 L1145.1,612.2 L1145.6,611.2 L1146.1,610.2 L1146.6,609.2 L1147.2,608.2 L1147.7,607.2 L1148.2,606.2 L1148.7,605.2 L1149.3,604.2 L1149.8,603.2 L1150.3,602.2 L1150.8,601.2 L1151.3,600.2 L1151.8,599.2 L1152.4,598.2 L1152.9,597.2 L1153.4,596.2 L1153.9,595.2 L1154.3,594.2 L1154.8,593.2 L1155.3,592.2 L1155.8,591.2 L1156.4,590.2Z" fill="#ddd5c4"/>
<line x1="1168.00" y1="641.00" x2="1168.00" y2="646.80" stroke="#000" stroke-width="2.2" />
<line x1="1168.00" y1="798.60" x2="1168.00" y2="816.40" stroke="#000" stroke-width="2.2" />
<rect x="1164.00" y="645.80" width="8" height="153.80" rx="1.2" fill="#000"/>
<rect x="1165.40" y="705.80" width="5.20" height="5.20" fill="#fff" />
<line x1="940" y1="561" x2="940" y2="917.3" stroke="#7a7a7a" stroke-width="2" stroke-dasharray="3 7" stroke-dashoffset="-3"/>
<line x1="1092" y1="561" x2="1092" y2="917.3" stroke="#7a7a7a" stroke-width="2" stroke-dasharray="3 7" stroke-dashoffset="-3"/>
<line x1="787.90" y1="559.00" x2="1244.50" y2="559.00" stroke="#000" stroke-width="2.2" />
<line x1="787.90" y1="918.30" x2="1244.50" y2="918.30" stroke="#000" stroke-width="2.2" />
<line x1="788.50" y1="559.00" x2="788.50" y2="918.30" stroke="#000" stroke-width="1.2" />
<line x1="1244.00" y1="559.00" x2="1244.00" y2="919.30" stroke="#000" stroke-width="1.6" />
<line x1="780.50" y1="588.10" x2="788.50" y2="588.10" stroke="#000" stroke-width="2" />
<text x="773.50" y="596.60" font-size="29.5" text-anchor="end" fill="#000" >1.8</text>
<line x1="780.50" y1="648.00" x2="788.50" y2="648.00" stroke="#000" stroke-width="2" />
<text x="773.50" y="656.50" font-size="29.5" text-anchor="end" fill="#000" >1.6</text>
<line x1="780.50" y1="707.90" x2="788.50" y2="707.90" stroke="#000" stroke-width="2" />
<text x="773.50" y="716.40" font-size="29.5" text-anchor="end" fill="#000" >1.4</text>
<line x1="780.50" y1="767.80" x2="788.50" y2="767.80" stroke="#000" stroke-width="2" />
<text x="773.50" y="776.30" font-size="29.5" text-anchor="end" fill="#000" >1.2</text>
<line x1="780.50" y1="827.70" x2="788.50" y2="827.70" stroke="#000" stroke-width="2" />
<text x="773.50" y="836.20" font-size="29.5" text-anchor="end" fill="#000" >1.0</text>
<line x1="780.50" y1="887.60" x2="788.50" y2="887.60" stroke="#000" stroke-width="2" />
<text x="773.50" y="896.10" font-size="29.5" text-anchor="end" fill="#000" >0.8</text>
<line x1="864.00" y1="918.30" x2="864.00" y2="926.30" stroke="#000" stroke-width="1.2" />
<line x1="1016.00" y1="918.30" x2="1016.00" y2="926.30" stroke="#000" stroke-width="1.2" />
<line x1="1168.00" y1="918.30" x2="1168.00" y2="926.30" stroke="#000" stroke-width="1.2" />
<text x="864.00" y="955.30" font-size="30" text-anchor="middle" fill="#000" >CK</text>
<text x="1016.00" y="955.30" font-size="30" text-anchor="middle" fill="#000" >DG</text>
<text x="1169.00" y="955.30" font-size="30" text-anchor="middle" fill="#000" >VR</text>
<text x="864.00" y="584.50" font-size="30" text-anchor="middle" fill="#000" >a</text>
<text x="1016.00" y="604.50" font-size="30" text-anchor="middle" fill="#000" >a</text>
<text x="1168.00" y="584.50" font-size="30" text-anchor="middle" fill="#000" >a</text>
<text x="684.00" y="539.50" font-size="31" text-anchor="start" fill="#000" >(d)</text>
<text transform="translate(711.00,737.80) rotate(-90)" font-size="29.5" text-anchor="middle">Shannon index</text>
<rect x="158.50" y="1254.50" width="76.50" height="174.30" fill="#ddd5c4" />
<rect x="158.50" y="1428.80" width="76.50" height="19.90" fill="#9ba3be" />
<rect x="310.90" y="1203.90" width="76.30" height="202.30" fill="#ddd5c4" />
<rect x="310.90" y="1406.20" width="76.30" height="42.50" fill="#9ba3be" />
<rect x="463.10" y="1318.90" width="76.90" height="115.70" fill="#ddd5c4" />
<rect x="463.10" y="1434.60" width="76.90" height="14.10" fill="#9ba3be" />
<rect x="159.00" y="1089.30" width="76.00" height="38.10" fill="#505a7b" />
<text x="197.00" y="1118.00" font-size="28" text-anchor="middle" fill="#fff" >0.214</text>
<rect x="310.90" y="1089.30" width="76.30" height="61.00" fill="#505a7b" />
<text x="349.05" y="1129.80" font-size="28" text-anchor="middle" fill="#fff" >0.338</text>
<rect x="463.10" y="1089.30" width="76.90" height="41.10" fill="#505a7b" />
<text x="501.55" y="1121.00" font-size="28" text-anchor="middle" fill="#fff" >0.231</text>
<text x="197.00" y="1351.50" font-size="28" text-anchor="middle" fill="#000" >89%</text>
<text x="197.00" y="1448.00" font-size="28" text-anchor="middle" fill="#000" >11%</text>
<text x="349.00" y="1315.00" font-size="28" text-anchor="middle" fill="#000" >82%</text>
<text x="349.00" y="1436.30" font-size="28" text-anchor="middle" fill="#000" >18%</text>
<text x="501.00" y="1387.30" font-size="28" text-anchor="middle" fill="#000" >89%</text>
<text x="501.00" y="1452.00" font-size="28" text-anchor="middle" fill="#000" >11%</text>
<path d="M348.7,1200.4 L348.7,1180 L500,1180 L500,1315.8" fill="none" stroke="#000" stroke-width="2"/>
<text x="424.00" y="1180.00" font-size="30.5" text-anchor="middle" fill="#000" >**</text>
<line x1="120.50" y1="1089.30" x2="577.20" y2="1089.30" stroke="#000" stroke-width="1.6" />
<line x1="119.80" y1="1448.70" x2="577.90" y2="1448.70" stroke="#000" stroke-width="2" />
<line x1="120.50" y1="1089.30" x2="120.50" y2="1448.70" stroke="#000" stroke-width="1.4" />
<line x1="577.20" y1="1089.30" x2="577.20" y2="1448.70" stroke="#000" stroke-width="1.6" />
<line x1="113.50" y1="1161.18" x2="120.50" y2="1161.18" stroke="#000" stroke-width="2" />
<text x="109.00" y="1170.18" font-size="29.5" text-anchor="end" fill="#000" >80</text>
<line x1="113.50" y1="1233.06" x2="120.50" y2="1233.06" stroke="#000" stroke-width="2" />
<text x="109.00" y="1242.06" font-size="29.5" text-anchor="end" fill="#000" >60</text>
<line x1="113.50" y1="1304.94" x2="120.50" y2="1304.94" stroke="#000" stroke-width="2" />
<text x="109.00" y="1313.94" font-size="29.5" text-anchor="end" fill="#000" >40</text>
<line x1="113.50" y1="1376.82" x2="120.50" y2="1376.82" stroke="#000" stroke-width="2" />
<text x="109.00" y="1385.82" font-size="29.5" text-anchor="end" fill="#000" >20</text>
<line x1="577.20" y1="1179.30" x2="584.20" y2="1179.30" stroke="#000" stroke-width="2" />
<text x="589.20" y="1189.30" font-size="29.5" text-anchor="start" fill="#000" >0.5</text>
<line x1="577.20" y1="1269.30" x2="584.20" y2="1269.30" stroke="#000" stroke-width="2" />
<text x="589.20" y="1279.30" font-size="29.5" text-anchor="start" fill="#000" >1.0</text>
<line x1="577.20" y1="1359.30" x2="584.20" y2="1359.30" stroke="#000" stroke-width="2" />
<text x="589.20" y="1369.30" font-size="29.5" text-anchor="start" fill="#000" >1.5</text>
<line x1="196.60" y1="1448.70" x2="196.60" y2="1455.70" stroke="#000" stroke-width="1.2" />
<text x="196.60" y="1485.70" font-size="30" text-anchor="middle" fill="#000" >CK</text>
<line x1="348.70" y1="1448.70" x2="348.70" y2="1455.70" stroke="#000" stroke-width="1.2" />
<text x="348.70" y="1485.70" font-size="30" text-anchor="middle" fill="#000" >DG</text>
<line x1="500.60" y1="1448.70" x2="500.60" y2="1455.70" stroke="#000" stroke-width="1.2" />
<text x="500.60" y="1485.70" font-size="30" text-anchor="middle" fill="#000" >VR</text>
<rect x="121.50" y="980.00" width="31.50" height="33.00" fill="#ddd5c4" />
<rect x="121.50" y="1016.00" width="31.50" height="33.00" fill="#9ba3be" />
<rect x="121.50" y="1052.00" width="31.50" height="33.00" fill="#505a7b" />
<text x="186.00" y="1006.00" font-size="29.5" text-anchor="start" fill="#000" >0-10 cm belowground biomass</text>
<text x="172.50" y="1042.00" font-size="29.5" text-anchor="start" fill="#000" >10-30 cm belowground biomass</text>
<text x="171.50" y="1078.00" font-size="29.5" text-anchor="start" fill="#000" >aboveground biomass</text>
<text x="25.00" y="1007.50" font-size="31" text-anchor="start" fill="#000" >(e)</text>
<text transform="translate(55.5,1269) rotate(-90)" font-size="29.5" text-anchor="middle">Belowground biomass(kg·m<tspan font-size="19" dy="-12.5">-2</tspan><tspan dy="12.5">)</tspan></text>
<text transform="translate(643.9,1269) rotate(90)" font-size="29.5" text-anchor="middle">Aboveground biomass(kg·m<tspan font-size="19" dy="-12.5">-2</tspan><tspan dy="12.5">)</tspan></text>
<rect x="811.10" y="1211.96" width="68.90" height="236.04" fill="#505a7b" />
<line x1="845.55" y1="1211.96" x2="845.55" y2="1153.62" stroke="#000" stroke-width="1.5" />
<text x="845.55" y="1147.12" font-size="30" text-anchor="middle" fill="#000" >a</text>
<rect x="925.20" y="1273.88" width="68.80" height="174.12" fill="#9ba3be" />
<line x1="959.60" y1="1273.88" x2="959.60" y2="1220.04" stroke="#000" stroke-width="1.5" />
<text x="959.60" y="1213.54" font-size="30" text-anchor="middle" fill="#000" >b</text>
<rect x="1039.20" y="1271.19" width="69.00" height="176.81" fill="#ddd5c4" />
<line x1="1073.70" y1="1271.19" x2="1073.70" y2="1207.47" stroke="#000" stroke-width="1.5" />
<text x="1073.70" y="1200.97" font-size="30" text-anchor="middle" fill="#000" >b</text>
<rect x="1153.10" y="1403.12" width="68.40" height="44.88" fill="#f6eed8" />
<line x1="1187.30" y1="1403.12" x2="1187.30" y2="1361.84" stroke="#000" stroke-width="1.5" />
<text x="1187.30" y="1355.34" font-size="30" text-anchor="middle" fill="#000" >c</text>
<line x1="780.50" y1="1089.00" x2="1245.00" y2="1089.00" stroke="#000" stroke-width="2" />
<line x1="788.50" y1="1448.00" x2="1245.50" y2="1448.00" stroke="#000" stroke-width="2" />
<line x1="788.50" y1="1089.00" x2="788.50" y2="1448.00" stroke="#000" stroke-width="1.4" />
<line x1="1245.00" y1="1089.00" x2="1245.00" y2="1448.00" stroke="#000" stroke-width="1.6" />
<line x1="780.50" y1="1448.00" x2="788.50" y2="1448.00" stroke="#000" stroke-width="2" />
<text x="773.50" y="1455.80" font-size="29.5" text-anchor="end" fill="#000" >0</text>
<line x1="780.50" y1="1358.25" x2="788.50" y2="1358.25" stroke="#000" stroke-width="2" />
<text x="773.50" y="1366.05" font-size="29.5" text-anchor="end" fill="#000" >1</text>
<line x1="780.50" y1="1268.50" x2="788.50" y2="1268.50" stroke="#000" stroke-width="2" />
<text x="773.50" y="1276.30" font-size="29.5" text-anchor="end" fill="#000" >2</text>
<line x1="780.50" y1="1178.75" x2="788.50" y2="1178.75" stroke="#000" stroke-width="2" />
<text x="773.50" y="1186.55" font-size="29.5" text-anchor="end" fill="#000" >3</text>
<line x1="780.50" y1="1089.00" x2="788.50" y2="1089.00" stroke="#000" stroke-width="2" />
<text x="773.50" y="1096.80" font-size="29.5" text-anchor="end" fill="#000" >4</text>
<line x1="845.55" y1="1448.00" x2="845.55" y2="1456.00" stroke="#000" stroke-width="1.2" />
<text x="845.55" y="1485.00" font-size="30" text-anchor="middle" fill="#000" >CK</text>
<line x1="959.60" y1="1448.00" x2="959.60" y2="1456.00" stroke="#000" stroke-width="1.2" />
<text x="959.60" y="1485.00" font-size="30" text-anchor="middle" fill="#000" >DG</text>
<line x1="1073.70" y1="1448.00" x2="1073.70" y2="1456.00" stroke="#000" stroke-width="1.2" />
<text x="1075.20" y="1485.00" font-size="30" text-anchor="middle" fill="#000" >VR</text>
<line x1="1187.30" y1="1448.00" x2="1187.30" y2="1456.00" stroke="#000" stroke-width="1.2" />
<text x="1188.80" y="1485.00" font-size="30" text-anchor="middle" fill="#000" >EX</text>
<text x="683.50" y="1007.50" font-size="31" text-anchor="start" fill="#000" >(f)</text>
<text transform="translate(727.8,1265.5) rotate(-90)" font-size="29.5" text-anchor="middle">GPP (μmol CO<tspan font-size="19" dy="8">2</tspan><tspan dy="-8"> m</tspan><tspan font-size="19" dy="-11">-2</tspan><tspan dy="11"> s</tspan><tspan font-size="19" dy="-11">-1</tspan><tspan dy="11">)</tspan></text>
</svg>
</body></html>
